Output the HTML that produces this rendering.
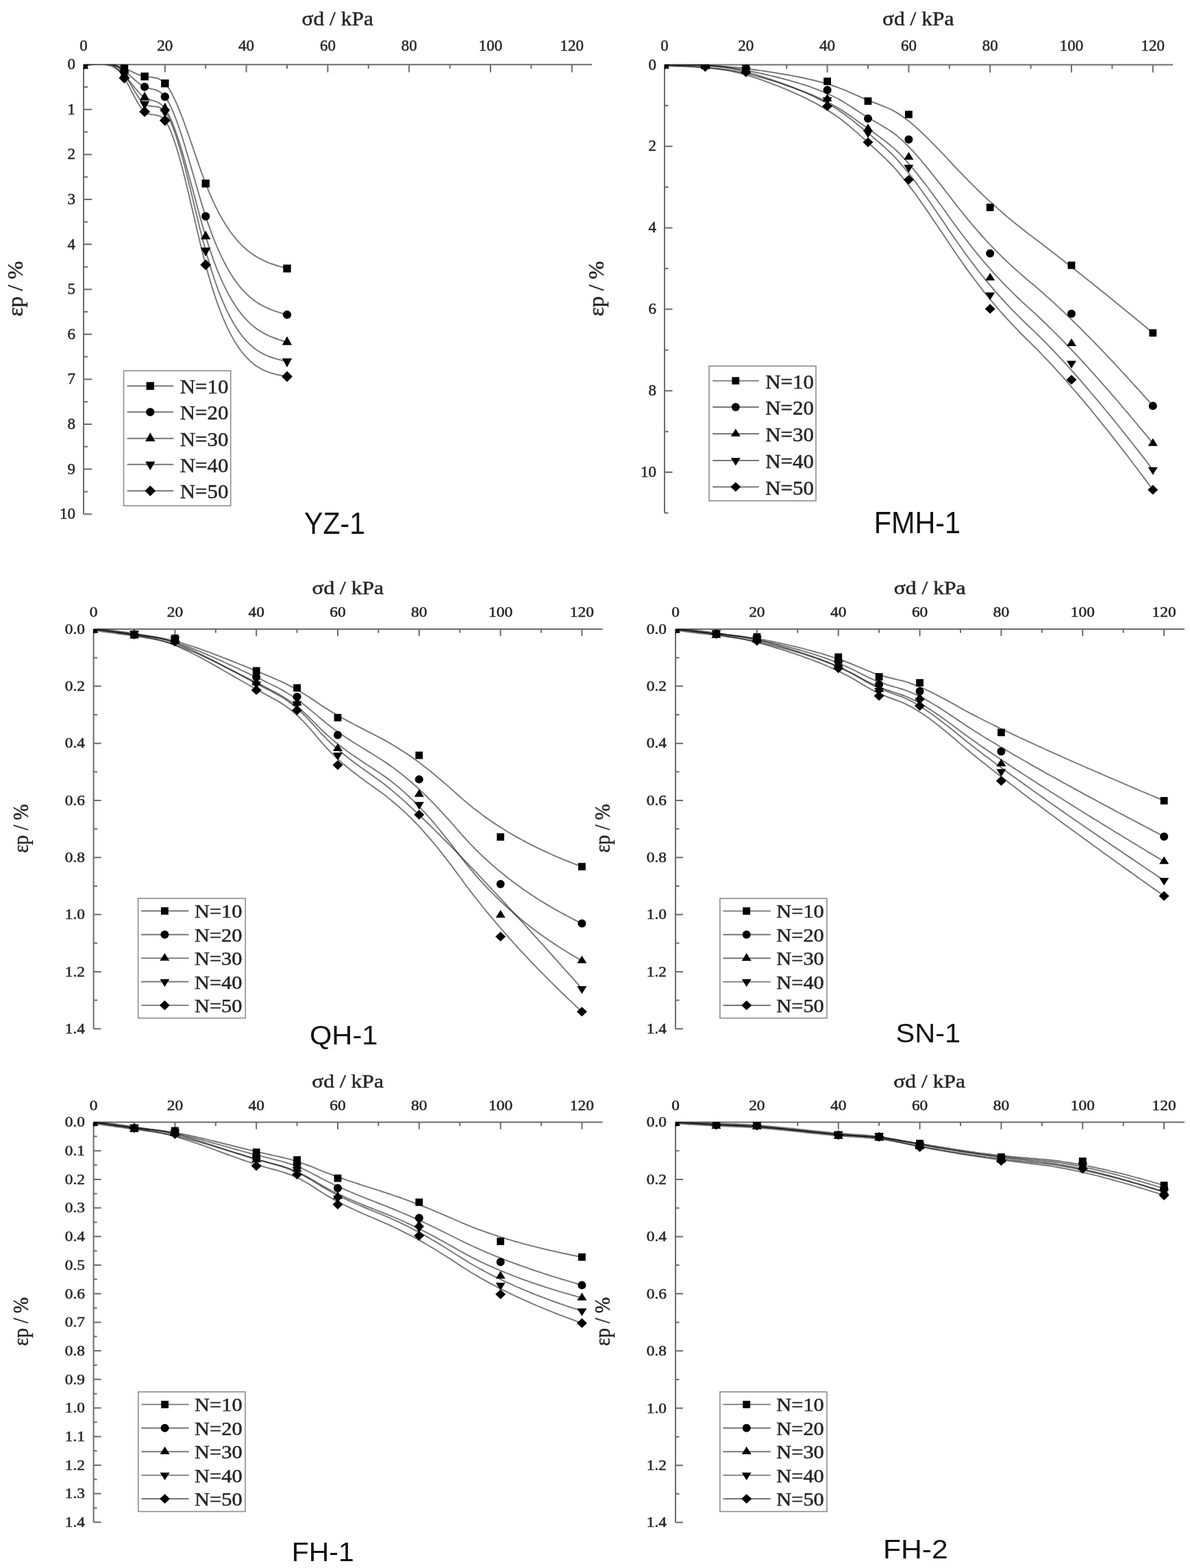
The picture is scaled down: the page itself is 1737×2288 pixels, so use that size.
<!DOCTYPE html>
<html><head><meta charset="utf-8"><title>Figure</title>
<style>html,body{margin:0;padding:0;background:#fff;overflow:hidden;}svg{display:block;}</style></head>
<body><svg width="1737" height="2288" viewBox="0 0 1737 2288">
<rect width="1737" height="2288" fill="#fff"/>
<clipPath id="cp1"><rect x="122" y="94.2" width="742" height="656"/></clipPath>
<path d="M122,94.2H864M122,94.2V750.2M181.4,94.2v6M240.8,94.2v11.2M300.2,94.2v6M359.6,94.2v11.2M419,94.2v6M478.4,94.2v11.2M537.8,94.2v6M597.2,94.2v11.2M656.6,94.2v6M716,94.2v11.2M775.4,94.2v6M834.8,94.2v11.2M122,127h6M122,159.8h12M122,192.6h6M122,225.4h12M122,258.2h6M122,291h12M122,323.8h6M122,356.6h12M122,389.4h6M122,422.2h12M122,455h6M122,487.8h12M122,520.6h6M122,553.4h12M122,586.2h6M122,619h12M122,651.8h6M122,684.6h12M122,717.4h6M122,750.2h12" stroke="#6b6b6b" stroke-width="2" fill="none"/>
<text transform="translate(122,74)" font-family='"Liberation Serif", "Times New Roman", serif' font-size="23" fill="#262626" stroke="#262626" stroke-width="0.5" text-anchor="middle">0</text>
<text transform="translate(240.8,74)" font-family='"Liberation Serif", "Times New Roman", serif' font-size="23" fill="#262626" stroke="#262626" stroke-width="0.5" text-anchor="middle">20</text>
<text transform="translate(359.6,74)" font-family='"Liberation Serif", "Times New Roman", serif' font-size="23" fill="#262626" stroke="#262626" stroke-width="0.5" text-anchor="middle">40</text>
<text transform="translate(478.4,74)" font-family='"Liberation Serif", "Times New Roman", serif' font-size="23" fill="#262626" stroke="#262626" stroke-width="0.5" text-anchor="middle">60</text>
<text transform="translate(597.2,74)" font-family='"Liberation Serif", "Times New Roman", serif' font-size="23" fill="#262626" stroke="#262626" stroke-width="0.5" text-anchor="middle">80</text>
<text transform="translate(716,74)" font-family='"Liberation Serif", "Times New Roman", serif' font-size="23" fill="#262626" stroke="#262626" stroke-width="0.5" text-anchor="middle">100</text>
<text transform="translate(834.8,74)" font-family='"Liberation Serif", "Times New Roman", serif' font-size="23" fill="#262626" stroke="#262626" stroke-width="0.5" text-anchor="middle">120</text>
<text transform="translate(110,101.1)" font-family='"Liberation Serif", "Times New Roman", serif' font-size="23" fill="#262626" stroke="#262626" stroke-width="0.5" text-anchor="end">0</text>
<text transform="translate(110,166.7)" font-family='"Liberation Serif", "Times New Roman", serif' font-size="23" fill="#262626" stroke="#262626" stroke-width="0.5" text-anchor="end">1</text>
<text transform="translate(110,232.3)" font-family='"Liberation Serif", "Times New Roman", serif' font-size="23" fill="#262626" stroke="#262626" stroke-width="0.5" text-anchor="end">2</text>
<text transform="translate(110,297.9)" font-family='"Liberation Serif", "Times New Roman", serif' font-size="23" fill="#262626" stroke="#262626" stroke-width="0.5" text-anchor="end">3</text>
<text transform="translate(110,363.5)" font-family='"Liberation Serif", "Times New Roman", serif' font-size="23" fill="#262626" stroke="#262626" stroke-width="0.5" text-anchor="end">4</text>
<text transform="translate(110,429.1)" font-family='"Liberation Serif", "Times New Roman", serif' font-size="23" fill="#262626" stroke="#262626" stroke-width="0.5" text-anchor="end">5</text>
<text transform="translate(110,494.7)" font-family='"Liberation Serif", "Times New Roman", serif' font-size="23" fill="#262626" stroke="#262626" stroke-width="0.5" text-anchor="end">6</text>
<text transform="translate(110,560.3)" font-family='"Liberation Serif", "Times New Roman", serif' font-size="23" fill="#262626" stroke="#262626" stroke-width="0.5" text-anchor="end">7</text>
<text transform="translate(110,625.9)" font-family='"Liberation Serif", "Times New Roman", serif' font-size="23" fill="#262626" stroke="#262626" stroke-width="0.5" text-anchor="end">8</text>
<text transform="translate(110,691.5)" font-family='"Liberation Serif", "Times New Roman", serif' font-size="23" fill="#262626" stroke="#262626" stroke-width="0.5" text-anchor="end">9</text>
<text transform="translate(110,757.1)" font-family='"Liberation Serif", "Times New Roman", serif' font-size="23" fill="#262626" stroke="#262626" stroke-width="0.5" text-anchor="end">10</text>
<text transform="translate(492.7,37.2) scale(1.085,1)" font-family='"Liberation Serif", "Times New Roman", serif' font-size="29" fill="#262626" stroke="#262626" stroke-width="0.5" text-anchor="middle">σd / kPa</text>
<text transform="translate(32.6,421.4) rotate(-90) scale(1.037,1)" font-family='"Liberation Serif", "Times New Roman", serif' font-size="30.8" fill="#262626" stroke="#262626" stroke-width="0.5" text-anchor="middle">εp / %</text>
<g clip-path="url(#cp1)">
<g stroke="#000" stroke-opacity="0.54" stroke-width="1.9" fill="none" stroke-linejoin="round">
<polyline points="122.0,94.2 123.5,94.1 125.0,94.0 126.5,93.9 128.0,93.8 129.5,93.7 131.0,93.6 132.4,93.5 133.9,93.5 135.4,93.4 136.9,93.3 138.4,93.3 139.9,93.2 141.4,93.2 142.9,93.2 144.4,93.2 145.9,93.2 147.4,93.2 148.9,93.2 150.4,93.3 151.8,93.4 153.3,93.4 154.8,93.5 156.3,93.7 157.8,93.8 159.3,94.0 160.8,94.2 162.3,94.4 163.8,94.6 165.3,94.9 166.8,95.1 168.3,95.5 169.8,95.8 171.3,96.2 172.7,96.5 174.2,97.0 175.7,97.4 177.2,97.9 178.7,98.4 180.2,99.0 181.7,99.6 183.2,100.2 184.7,100.8 186.2,101.5 187.7,102.2 189.2,102.9 190.7,103.6 192.1,104.3 193.6,105.1 195.1,105.8 196.6,106.5 198.1,107.1 199.6,107.8 201.1,108.4 202.6,109.0 204.1,109.6 205.6,110.1 207.1,110.6 208.6,111.0 210.1,111.4 211.5,111.7 213.0,111.9 214.5,112.1 216.0,112.3 217.5,112.4 219.0,112.5 220.5,112.6 222.0,112.8 223.5,113.0 225.0,113.2 226.5,113.5 228.0,113.8 229.5,114.2 230.9,114.8 232.4,115.4 233.9,116.2 235.4,117.1 236.9,118.1 238.4,119.4 239.9,120.8 241.4,122.3 242.9,124.1 244.4,126.1 245.9,128.2 247.4,130.6 248.9,133.1 250.4,135.7 251.8,138.5 253.3,141.5 254.8,144.6 256.3,147.8 257.8,151.1 259.3,154.6 260.8,158.2 262.3,161.9 263.8,165.6 265.3,169.5 266.8,173.4 268.3,177.4 269.8,181.5 271.2,185.7 272.7,189.9 274.2,194.1 275.7,198.4 277.2,202.7 278.7,207.0 280.2,211.4 281.7,215.7 283.2,220.1 284.7,224.5 286.2,228.8 287.7,233.1 289.2,237.4 290.6,241.7 292.1,245.9 293.6,250.1 295.1,254.3 296.6,258.3 298.1,262.3 299.6,266.2 301.1,270.1 302.6,273.8 304.1,277.5 305.6,281.1 307.1,284.6 308.6,288.0 310.1,291.3 311.5,294.6 313.0,297.8 314.5,300.9 316.0,303.9 317.5,306.9 319.0,309.7 320.5,312.6 322.0,315.3 323.5,318.0 325.0,320.6 326.5,323.1 328.0,325.6 329.5,327.9 330.9,330.3 332.4,332.5 333.9,334.8 335.4,336.9 336.9,339.0 338.4,341.0 339.9,343.0 341.4,344.9 342.9,346.7 344.4,348.5 345.9,350.3 347.4,351.9 348.9,353.6 350.3,355.2 351.8,356.7 353.3,358.2 354.8,359.6 356.3,361.0 357.8,362.4 359.3,363.7 360.8,364.9 362.3,366.2 363.8,367.3 365.3,368.5 366.8,369.6 368.3,370.6 369.7,371.6 371.2,372.6 372.7,373.6 374.2,374.5 375.7,375.4 377.2,376.2 378.7,377.1 380.2,377.9 381.7,378.6 383.2,379.4 384.7,380.1 386.2,380.8 387.7,381.4 389.2,382.1 390.6,382.7 392.1,383.3 393.6,383.9 395.1,384.4 396.6,385.0 398.1,385.5 399.6,386.0 401.1,386.5 402.6,387.0 404.1,387.5 405.6,388.0 407.1,388.4 408.6,388.9 410.0,389.3 411.5,389.7 413.0,390.2 414.5,390.6 416.0,391.0 417.5,391.4 419.0,391.8"/>
<polyline points="122.0,94.2 123.5,94.0 125.0,93.8 126.5,93.6 128.0,93.4 129.5,93.2 131.0,93.0 132.4,92.9 133.9,92.7 135.4,92.5 136.9,92.4 138.4,92.3 139.9,92.2 141.4,92.1 142.9,92.1 144.4,92.0 145.9,92.0 147.4,92.0 148.9,92.1 150.4,92.2 151.8,92.3 153.3,92.4 154.8,92.6 156.3,92.8 157.8,93.1 159.3,93.4 160.8,93.7 162.3,94.1 163.8,94.5 165.3,94.9 166.8,95.5 168.3,96.0 169.8,96.6 171.3,97.3 172.7,98.0 174.2,98.8 175.7,99.6 177.2,100.5 178.7,101.5 180.2,102.5 181.7,103.6 183.2,104.8 184.7,106.0 186.2,107.2 187.7,108.5 189.2,109.8 190.7,111.1 192.1,112.5 193.6,113.8 195.1,115.2 196.6,116.5 198.1,117.8 199.6,119.1 201.1,120.3 202.6,121.5 204.1,122.6 205.6,123.7 207.1,124.6 208.6,125.5 210.1,126.3 211.5,127.0 213.0,127.6 214.5,128.1 216.0,128.5 217.5,128.9 219.0,129.2 220.5,129.5 222.0,129.9 223.5,130.2 225.0,130.6 226.5,131.0 228.0,131.5 229.5,132.1 230.9,132.8 232.4,133.6 233.9,134.5 235.4,135.6 236.9,136.9 238.4,138.4 239.9,140.1 241.4,142.0 242.9,144.1 244.4,146.5 245.9,149.0 247.4,151.8 248.9,154.8 250.4,158.0 251.8,161.4 253.3,164.9 254.8,168.6 256.3,172.4 257.8,176.5 259.3,180.6 260.8,184.9 262.3,189.3 263.8,193.8 265.3,198.4 266.8,203.1 268.3,207.9 269.8,212.8 271.2,217.7 272.7,222.7 274.2,227.8 275.7,232.9 277.2,238.1 278.7,243.2 280.2,248.4 281.7,253.6 283.2,258.8 284.7,264.0 286.2,269.2 287.7,274.4 289.2,279.5 290.6,284.6 292.1,289.6 293.6,294.6 295.1,299.5 296.6,304.3 298.1,309.1 299.6,313.8 301.1,318.3 302.6,322.8 304.1,327.1 305.6,331.4 307.1,335.5 308.6,339.6 310.1,343.6 311.5,347.4 313.0,351.2 314.5,354.9 316.0,358.5 317.5,362.0 319.0,365.4 320.5,368.7 322.0,371.9 323.5,375.1 325.0,378.1 326.5,381.1 328.0,384.0 329.5,386.8 330.9,389.6 332.4,392.2 333.9,394.8 335.4,397.3 336.9,399.7 338.4,402.1 339.9,404.4 341.4,406.6 342.9,408.8 344.4,410.9 345.9,412.9 347.4,414.9 348.9,416.8 350.3,418.6 351.8,420.4 353.3,422.1 354.8,423.8 356.3,425.4 357.8,426.9 359.3,428.4 360.8,429.9 362.3,431.2 363.8,432.6 365.3,433.9 366.8,435.1 368.3,436.3 369.7,437.5 371.2,438.6 372.7,439.7 374.2,440.7 375.7,441.7 377.2,442.6 378.7,443.6 380.2,444.4 381.7,445.3 383.2,446.1 384.7,446.9 386.2,447.6 387.7,448.4 389.2,449.0 390.6,449.7 392.1,450.4 393.6,451.0 395.1,451.6 396.6,452.2 398.1,452.7 399.6,453.3 401.1,453.8 402.6,454.3 404.1,454.8 405.6,455.3 407.1,455.7 408.6,456.2 410.0,456.6 411.5,457.1 413.0,457.5 414.5,457.9 416.0,458.4 417.5,458.8 419.0,459.2"/>
<polyline points="122.0,96.3 123.5,96.1 125.0,95.8 126.5,95.5 128.0,95.3 129.5,95.0 131.0,94.8 132.4,94.5 133.9,94.3 135.4,94.1 136.9,94.0 138.4,93.8 139.9,93.7 141.4,93.6 142.9,93.5 144.4,93.5 145.9,93.5 147.4,93.5 148.9,93.6 150.4,93.7 151.8,93.9 153.3,94.1 154.8,94.3 156.3,94.6 157.8,95.0 159.3,95.4 160.8,95.9 162.3,96.4 163.8,97.0 165.3,97.6 166.8,98.4 168.3,99.2 169.8,100.0 171.3,101.0 172.7,102.0 174.2,103.1 175.7,104.2 177.2,105.5 178.7,106.8 180.2,108.2 181.7,109.8 183.2,111.4 184.7,113.0 186.2,114.8 187.7,116.6 189.2,118.4 190.7,120.3 192.1,122.2 193.6,124.0 195.1,125.9 196.6,127.8 198.1,129.6 199.6,131.4 201.1,133.1 202.6,134.8 204.1,136.3 205.6,137.8 207.1,139.2 208.6,140.4 210.1,141.6 211.5,142.5 213.0,143.4 214.5,144.1 216.0,144.7 217.5,145.2 219.0,145.7 220.5,146.1 222.0,146.5 223.5,146.9 225.0,147.3 226.5,147.8 228.0,148.3 229.5,148.9 230.9,149.6 232.4,150.5 233.9,151.4 235.4,152.6 236.9,153.9 238.4,155.4 239.9,157.2 241.4,159.2 242.9,161.4 244.4,163.9 245.9,166.6 247.4,169.6 248.9,172.7 250.4,176.1 251.8,179.7 253.3,183.4 254.8,187.4 256.3,191.5 257.8,195.7 259.3,200.2 260.8,204.7 262.3,209.4 263.8,214.3 265.3,219.2 266.8,224.2 268.3,229.4 269.8,234.6 271.2,239.9 272.7,245.3 274.2,250.7 275.7,256.2 277.2,261.7 278.7,267.2 280.2,272.8 281.7,278.4 283.2,284.0 284.7,289.6 286.2,295.1 287.7,300.7 289.2,306.2 290.6,311.6 292.1,317.0 293.6,322.4 295.1,327.7 296.6,332.9 298.1,338.0 299.6,343.0 301.1,347.9 302.6,352.7 304.1,357.4 305.6,361.9 307.1,366.4 308.6,370.7 310.1,375.0 311.5,379.2 313.0,383.2 314.5,387.2 316.0,391.0 317.5,394.8 319.0,398.4 320.5,402.0 322.0,405.5 323.5,408.8 325.0,412.1 326.5,415.3 328.0,418.4 329.5,421.5 330.9,424.4 332.4,427.3 333.9,430.1 335.4,432.8 336.9,435.4 338.4,437.9 339.9,440.4 341.4,442.8 342.9,445.1 344.4,447.3 345.9,449.5 347.4,451.6 348.9,453.7 350.3,455.6 351.8,457.6 353.3,459.4 354.8,461.2 356.3,462.9 357.8,464.6 359.3,466.2 360.8,467.7 362.3,469.2 363.8,470.7 365.3,472.1 366.8,473.4 368.3,474.7 369.7,475.9 371.2,477.1 372.7,478.3 374.2,479.4 375.7,480.5 377.2,481.5 378.7,482.5 380.2,483.4 381.7,484.3 383.2,485.2 384.7,486.0 386.2,486.8 387.7,487.6 389.2,488.4 390.6,489.1 392.1,489.8 393.6,490.5 395.1,491.1 396.6,491.7 398.1,492.3 399.6,492.9 401.1,493.5 402.6,494.0 404.1,494.5 405.6,495.1 407.1,495.6 408.6,496.1 410.0,496.5 411.5,497.0 413.0,497.5 414.5,497.9 416.0,498.4 417.5,498.9 419.0,499.3"/>
<polyline points="122.0,92.1 123.5,91.6 125.0,91.2 126.5,90.8 128.0,90.4 129.5,90.0 131.0,89.6 132.4,89.2 133.9,88.9 135.4,88.6 136.9,88.3 138.4,88.0 139.9,87.8 141.4,87.6 142.9,87.5 144.4,87.4 145.9,87.4 147.4,87.4 148.9,87.4 150.4,87.5 151.8,87.7 153.3,87.9 154.8,88.3 156.3,88.6 157.8,89.1 159.3,89.6 160.8,90.2 162.3,90.9 163.8,91.7 165.3,92.5 166.8,93.5 168.3,94.6 169.8,95.7 171.3,97.0 172.7,98.3 174.2,99.8 175.7,101.4 177.2,103.1 178.7,104.9 180.2,106.8 181.7,108.9 183.2,111.1 184.7,113.4 186.2,115.7 187.7,118.2 189.2,120.7 190.7,123.2 192.1,125.7 193.6,128.3 195.1,130.8 196.6,133.3 198.1,135.7 199.6,138.1 201.1,140.3 202.6,142.5 204.1,144.5 205.6,146.4 207.1,148.1 208.6,149.6 210.1,151.0 211.5,152.1 213.0,153.0 214.5,153.7 216.0,154.2 217.5,154.6 219.0,154.8 220.5,155.0 222.0,155.2 223.5,155.2 225.0,155.3 226.5,155.4 228.0,155.6 229.5,155.8 230.9,156.2 232.4,156.6 233.9,157.3 235.4,158.1 236.9,159.1 238.4,160.3 239.9,161.9 241.4,163.7 242.9,165.8 244.4,168.2 245.9,170.9 247.4,173.9 248.9,177.1 250.4,180.6 251.8,184.3 253.3,188.2 254.8,192.4 256.3,196.8 257.8,201.3 259.3,206.1 260.8,211.0 262.3,216.1 263.8,221.3 265.3,226.7 266.8,232.1 268.3,237.8 269.8,243.5 271.2,249.3 272.7,255.2 274.2,261.2 275.7,267.2 277.2,273.3 278.7,279.4 280.2,285.6 281.7,291.8 283.2,298.0 284.7,304.2 286.2,310.3 287.7,316.5 289.2,322.6 290.6,328.7 292.1,334.7 293.6,340.6 295.1,346.5 296.6,352.2 298.1,357.9 299.6,363.4 301.1,368.9 302.6,374.2 304.1,379.3 305.6,384.4 307.1,389.3 308.6,394.1 310.1,398.8 311.5,403.4 313.0,407.8 314.5,412.2 316.0,416.4 317.5,420.5 319.0,424.5 320.5,428.4 322.0,432.2 323.5,435.9 325.0,439.5 326.5,442.9 328.0,446.3 329.5,449.6 330.9,452.8 332.4,455.9 333.9,458.9 335.4,461.8 336.9,464.6 338.4,467.3 339.9,469.9 341.4,472.5 342.9,475.0 344.4,477.3 345.9,479.7 347.4,481.9 348.9,484.0 350.3,486.1 351.8,488.1 353.3,490.0 354.8,491.9 356.3,493.7 357.8,495.4 359.3,497.0 360.8,498.6 362.3,500.1 363.8,501.6 365.3,503.0 366.8,504.4 368.3,505.6 369.7,506.9 371.2,508.1 372.7,509.2 374.2,510.3 375.7,511.3 377.2,512.3 378.7,513.2 380.2,514.1 381.7,515.0 383.2,515.8 384.7,516.6 386.2,517.3 387.7,518.0 389.2,518.7 390.6,519.3 392.1,519.9 393.6,520.5 395.1,521.0 396.6,521.6 398.1,522.0 399.6,522.5 401.1,523.0 402.6,523.4 404.1,523.8 405.6,524.2 407.1,524.6 408.6,525.0 410.0,525.4 411.5,525.7 413.0,526.1 414.5,526.4 416.0,526.7 417.5,527.1 419.0,527.4"/>
<polyline points="122.0,94.2 123.5,93.8 125.0,93.3 126.5,92.9 128.0,92.5 129.5,92.1 131.0,91.7 132.4,91.3 133.9,91.0 135.4,90.7 136.9,90.4 138.4,90.1 139.9,89.9 141.4,89.8 142.9,89.7 144.4,89.6 145.9,89.6 147.4,89.6 148.9,89.7 150.4,89.9 151.8,90.1 153.3,90.4 154.8,90.8 156.3,91.3 157.8,91.8 159.3,92.4 160.8,93.1 162.3,93.9 163.8,94.8 165.3,95.8 166.8,96.9 168.3,98.1 169.8,99.5 171.3,100.9 172.7,102.4 174.2,104.1 175.7,105.9 177.2,107.8 178.7,109.9 180.2,112.0 181.7,114.4 183.2,116.8 184.7,119.4 186.2,122.1 187.7,124.8 189.2,127.6 190.7,130.5 192.1,133.3 193.6,136.2 195.1,139.0 196.6,141.8 198.1,144.6 199.6,147.2 201.1,149.8 202.6,152.2 204.1,154.5 205.6,156.7 207.1,158.6 208.6,160.4 210.1,161.9 211.5,163.3 213.0,164.3 214.5,165.2 216.0,165.8 217.5,166.4 219.0,166.7 220.5,167.0 222.0,167.2 223.5,167.4 225.0,167.6 226.5,167.8 228.0,168.0 229.5,168.3 230.9,168.7 232.4,169.2 233.9,169.9 235.4,170.7 236.9,171.8 238.4,173.2 239.9,174.8 241.4,176.7 242.9,178.9 244.4,181.4 245.9,184.2 247.4,187.3 248.9,190.7 250.4,194.3 251.8,198.2 253.3,202.3 254.8,206.7 256.3,211.2 257.8,215.9 259.3,220.9 260.8,226.0 262.3,231.3 263.8,236.7 265.3,242.3 266.8,248.0 268.3,253.8 269.8,259.8 271.2,265.8 272.7,272.0 274.2,278.2 275.7,284.4 277.2,290.8 278.7,297.1 280.2,303.5 281.7,309.9 283.2,316.3 284.7,322.8 286.2,329.2 287.7,335.5 289.2,341.9 290.6,348.1 292.1,354.4 293.6,360.5 295.1,366.6 296.6,372.5 298.1,378.4 299.6,384.1 301.1,389.7 302.6,395.2 304.1,400.6 305.6,405.8 307.1,410.9 308.6,415.8 310.1,420.6 311.5,425.4 313.0,429.9 314.5,434.4 316.0,438.8 317.5,443.0 319.0,447.1 320.5,451.1 322.0,455.0 323.5,458.8 325.0,462.5 326.5,466.0 328.0,469.5 329.5,472.8 330.9,476.1 332.4,479.3 333.9,482.3 335.4,485.3 336.9,488.1 338.4,490.9 339.9,493.6 341.4,496.2 342.9,498.7 344.4,501.1 345.9,503.5 347.4,505.7 348.9,507.9 350.3,510.0 351.8,512.0 353.3,513.9 354.8,515.8 356.3,517.6 357.8,519.3 359.3,520.9 360.8,522.5 362.3,524.0 363.8,525.5 365.3,526.9 366.8,528.2 368.3,529.5 369.7,530.7 371.2,531.8 372.7,532.9 374.2,534.0 375.7,535.0 377.2,535.9 378.7,536.8 380.2,537.7 381.7,538.5 383.2,539.3 384.7,540.0 386.2,540.7 387.7,541.3 389.2,541.9 390.6,542.5 392.1,543.1 393.6,543.6 395.1,544.1 396.6,544.5 398.1,545.0 399.6,545.4 401.1,545.8 402.6,546.2 404.1,546.5 405.6,546.8 407.1,547.2 408.6,547.5 410.0,547.8 411.5,548.1 413.0,548.3 414.5,548.6 416.0,548.9 417.5,549.1 419.0,549.4"/>
</g>
<g fill="#000">
<rect x="116.3" y="88.5" width="11.4" height="11.4"/>
<rect x="175.7" y="93.75" width="11.4" height="11.4"/>
<rect x="205.4" y="105.88" width="11.4" height="11.4"/>
<rect x="235.1" y="115.99" width="11.4" height="11.4"/>
<rect x="294.5" y="262.08" width="11.4" height="11.4"/>
<rect x="413.3" y="386.13" width="11.4" height="11.4"/>
<circle cx="122" cy="94.2" r="6.1"/>
<circle cx="181.4" cy="103.38" r="6.1"/>
<circle cx="211.1" cy="126.8" r="6.1"/>
<circle cx="240.8" cy="141.17" r="6.1"/>
<circle cx="300.2" cy="315.6" r="6.1"/>
<circle cx="419" cy="459.2" r="6.1"/>
<path d="M122,87.8L129.2,100.6L114.8,100.6Z"/>
<path d="M181.4,100.92L188.6,113.72L174.2,113.72Z"/>
<path d="M211.1,133.72L218.3,146.52L203.9,146.52Z"/>
<path d="M240.8,149.79L248,162.59L233.6,162.59Z"/>
<path d="M300.2,336.42L307.4,349.22L293,349.22Z"/>
<path d="M419,490.78L426.2,503.58L411.8,503.58Z"/>
<path d="M122,100.6L129.2,87.8L114.8,87.8Z"/>
<path d="M181.4,117L188.6,104.2L174.2,104.2Z"/>
<path d="M211.1,160.3L218.3,147.5L203.9,147.5Z"/>
<path d="M240.8,171.45L248,158.65L233.6,158.65Z"/>
<path d="M300.2,374.15L307.4,361.35L293,361.35Z"/>
<path d="M419,535.92L426.2,523.12L411.8,523.12Z"/>
<path d="M122,86.4L129.9,94.2L122,102L114.1,94.2Z"/>
<path d="M181.4,106.08L189.3,113.88L181.4,121.68L173.5,113.88Z"/>
<path d="M211.1,155.08L219,162.88L211.1,170.68L203.2,162.88Z"/>
<path d="M240.8,168.07L248.7,175.87L240.8,183.67L232.9,175.87Z"/>
<path d="M300.2,378.58L308.1,386.38L300.2,394.18L292.3,386.38Z"/>
<path d="M419,541.6L426.9,549.4L419,557.2L411.1,549.4Z"/>
</g></g>
<rect x="180.5" y="541" width="156.2" height="197" fill="#fff" stroke="#8c8c8c" stroke-width="1.6"/>
<path d="M185.7,563.2H253.3" stroke="#777777" stroke-width="1.9"/>
<g fill="#000"><rect x="213.6" y="557.5" width="11.4" height="11.4"/></g>
<text transform="translate(262.8,574.2) scale(1.02,1)" font-family='"Liberation Serif", "Times New Roman", serif' font-size="30.3" fill="#262626" stroke="#262626" stroke-width="0.5" text-anchor="start">N=10</text>
<path d="M185.7,601.3H253.3" stroke="#777777" stroke-width="1.9"/>
<g fill="#000"><circle cx="219.3" cy="601.3" r="6.1"/></g>
<text transform="translate(262.8,612.3) scale(1.02,1)" font-family='"Liberation Serif", "Times New Roman", serif' font-size="30.3" fill="#262626" stroke="#262626" stroke-width="0.5" text-anchor="start">N=20</text>
<path d="M185.7,639.7H253.3" stroke="#777777" stroke-width="1.9"/>
<g fill="#000"><path d="M219.3,631.17L226.5,643.97L212.1,643.97Z"/></g>
<text transform="translate(262.8,650.7) scale(1.02,1)" font-family='"Liberation Serif", "Times New Roman", serif' font-size="30.3" fill="#262626" stroke="#262626" stroke-width="0.5" text-anchor="start">N=30</text>
<path d="M185.7,677.8H253.3" stroke="#777777" stroke-width="1.9"/>
<g fill="#000"><path d="M219.3,686.33L226.5,673.53L212.1,673.53Z"/></g>
<text transform="translate(262.8,688.8) scale(1.02,1)" font-family='"Liberation Serif", "Times New Roman", serif' font-size="30.3" fill="#262626" stroke="#262626" stroke-width="0.5" text-anchor="start">N=40</text>
<path d="M185.7,716.3H253.3" stroke="#777777" stroke-width="1.9"/>
<g fill="#000"><path d="M219.3,708.5L227.2,716.3L219.3,724.1L211.4,716.3Z"/></g>
<text transform="translate(262.8,727.3) scale(1.02,1)" font-family='"Liberation Serif", "Times New Roman", serif' font-size="30.3" fill="#262626" stroke="#262626" stroke-width="0.5" text-anchor="start">N=50</text>
<text transform="translate(488.5,778.5) scale(0.93,1)" font-family='"Liberation Sans", Arial, sans-serif' font-size="44.2" fill="#111" text-anchor="middle">YZ-1</text>
<clipPath id="cp2"><rect x="970" y="94.6" width="742" height="653.95"/></clipPath>
<path d="M970,94.6H1712M970,94.6V748.55M1029.4,94.6v6M1088.8,94.6v11.2M1148.2,94.6v6M1207.6,94.6v11.2M1267,94.6v6M1326.4,94.6v11.2M1385.8,94.6v6M1445.2,94.6v11.2M1504.6,94.6v6M1564,94.6v11.2M1623.4,94.6v6M1682.8,94.6v11.2M970,154.05h5.5M970,213.5h11.5M970,272.95h5.5M970,332.4h11.5M970,391.85h5.5M970,451.3h11.5M970,510.75h5.5M970,570.2h11.5M970,629.65h5.5M970,689.1h11.5M970,748.55h5.5" stroke="#6b6b6b" stroke-width="2" fill="none"/>
<text transform="translate(970,74.3)" font-family='"Liberation Serif", "Times New Roman", serif' font-size="23" fill="#262626" stroke="#262626" stroke-width="0.5" text-anchor="middle">0</text>
<text transform="translate(1088.8,74.3)" font-family='"Liberation Serif", "Times New Roman", serif' font-size="23" fill="#262626" stroke="#262626" stroke-width="0.5" text-anchor="middle">20</text>
<text transform="translate(1207.6,74.3)" font-family='"Liberation Serif", "Times New Roman", serif' font-size="23" fill="#262626" stroke="#262626" stroke-width="0.5" text-anchor="middle">40</text>
<text transform="translate(1326.4,74.3)" font-family='"Liberation Serif", "Times New Roman", serif' font-size="23" fill="#262626" stroke="#262626" stroke-width="0.5" text-anchor="middle">60</text>
<text transform="translate(1445.2,74.3)" font-family='"Liberation Serif", "Times New Roman", serif' font-size="23" fill="#262626" stroke="#262626" stroke-width="0.5" text-anchor="middle">80</text>
<text transform="translate(1564,74.3)" font-family='"Liberation Serif", "Times New Roman", serif' font-size="23" fill="#262626" stroke="#262626" stroke-width="0.5" text-anchor="middle">100</text>
<text transform="translate(1682.8,74.3)" font-family='"Liberation Serif", "Times New Roman", serif' font-size="23" fill="#262626" stroke="#262626" stroke-width="0.5" text-anchor="middle">120</text>
<text transform="translate(958,101.5)" font-family='"Liberation Serif", "Times New Roman", serif' font-size="23" fill="#262626" stroke="#262626" stroke-width="0.5" text-anchor="end">0</text>
<text transform="translate(958,220.4)" font-family='"Liberation Serif", "Times New Roman", serif' font-size="23" fill="#262626" stroke="#262626" stroke-width="0.5" text-anchor="end">2</text>
<text transform="translate(958,339.3)" font-family='"Liberation Serif", "Times New Roman", serif' font-size="23" fill="#262626" stroke="#262626" stroke-width="0.5" text-anchor="end">4</text>
<text transform="translate(958,458.2)" font-family='"Liberation Serif", "Times New Roman", serif' font-size="23" fill="#262626" stroke="#262626" stroke-width="0.5" text-anchor="end">6</text>
<text transform="translate(958,577.1)" font-family='"Liberation Serif", "Times New Roman", serif' font-size="23" fill="#262626" stroke="#262626" stroke-width="0.5" text-anchor="end">8</text>
<text transform="translate(958,696)" font-family='"Liberation Serif", "Times New Roman", serif' font-size="23" fill="#262626" stroke="#262626" stroke-width="0.5" text-anchor="end">10</text>
<text transform="translate(1340.2,37.3) scale(1.085,1)" font-family='"Liberation Serif", "Times New Roman", serif' font-size="29" fill="#262626" stroke="#262626" stroke-width="0.5" text-anchor="middle">σd / kPa</text>
<text transform="translate(880.7,421.2) rotate(-90) scale(1.037,1)" font-family='"Liberation Serif", "Times New Roman", serif' font-size="30.8" fill="#262626" stroke="#262626" stroke-width="0.5" text-anchor="middle">εp / %</text>
<g clip-path="url(#cp2)">
<g stroke="#000" stroke-opacity="0.54" stroke-width="1.9" fill="none" stroke-linejoin="round">
<polyline points="970.0,94.6 974.0,94.6 978.0,94.6 981.9,94.6 985.9,94.6 989.9,94.7 993.9,94.7 997.9,94.8 1001.9,94.8 1005.8,94.9 1009.8,94.9 1013.8,95.0 1017.8,95.1 1021.8,95.2 1025.7,95.3 1029.7,95.5 1033.7,95.6 1037.7,95.8 1041.7,96.0 1045.7,96.2 1049.6,96.4 1053.6,96.7 1057.6,96.9 1061.6,97.2 1065.6,97.6 1069.6,98.0 1073.5,98.3 1077.5,98.8 1081.5,99.2 1085.5,99.7 1089.5,100.2 1093.4,100.7 1097.4,101.2 1101.4,101.7 1105.4,102.3 1109.4,102.9 1113.4,103.4 1117.3,104.0 1121.3,104.6 1125.3,105.3 1129.3,105.9 1133.3,106.5 1137.2,107.2 1141.2,107.8 1145.2,108.5 1149.2,109.2 1153.2,109.9 1157.2,110.7 1161.1,111.4 1165.1,112.2 1169.1,113.0 1173.1,113.8 1177.1,114.7 1181.1,115.6 1185.0,116.5 1189.0,117.5 1193.0,118.5 1197.0,119.5 1201.0,120.6 1204.9,121.7 1208.9,122.9 1212.9,124.2 1216.9,125.5 1220.9,126.9 1224.9,128.3 1228.8,129.8 1232.8,131.4 1236.8,133.1 1240.8,134.9 1244.8,136.7 1248.7,138.4 1252.7,140.1 1256.7,141.9 1260.7,143.5 1264.7,145.2 1268.7,146.8 1272.6,148.4 1276.6,150.0 1280.6,151.5 1284.6,153.1 1288.6,154.7 1292.6,156.3 1296.5,158.0 1300.5,159.8 1304.5,161.8 1308.5,164.1 1312.5,166.6 1316.4,169.3 1320.4,172.2 1324.4,175.2 1328.4,178.3 1332.4,181.6 1336.4,185.1 1340.3,188.7 1344.3,192.3 1348.3,196.1 1352.3,200.0 1356.3,203.9 1360.2,207.9 1364.2,212.0 1368.2,216.1 1372.2,220.2 1376.2,224.4 1380.2,228.7 1384.1,232.9 1388.1,237.2 1392.1,241.5 1396.1,245.7 1400.1,249.9 1404.1,254.0 1408.0,258.1 1412.0,262.2 1416.0,266.2 1420.0,270.2 1424.0,274.1 1427.9,278.0 1431.9,281.8 1435.9,285.6 1439.9,289.4 1443.9,293.1 1447.9,296.7 1451.8,300.3 1455.8,303.9 1459.8,307.3 1463.8,310.8 1467.8,314.2 1471.7,317.6 1475.7,320.9 1479.7,324.1 1483.7,327.4 1487.7,330.5 1491.7,333.7 1495.6,336.8 1499.6,339.9 1503.6,342.9 1507.6,345.9 1511.6,348.9 1515.6,352.0 1519.5,355.0 1523.5,358.1 1527.5,361.1 1531.5,364.2 1535.5,367.3 1539.4,370.3 1543.4,373.4 1547.4,376.5 1551.4,379.6 1555.4,382.8 1559.4,385.9 1563.3,389.0 1567.3,392.1 1571.3,395.3 1575.3,398.4 1579.3,401.6 1583.2,404.7 1587.2,407.9 1591.2,411.1 1595.2,414.3 1599.2,417.5 1603.2,420.7 1607.1,423.9 1611.1,427.1 1615.1,430.3 1619.1,433.5 1623.1,436.7 1627.1,440.0 1631.0,443.2 1635.0,446.4 1639.0,449.7 1643.0,452.9 1647.0,456.2 1650.9,459.5 1654.9,462.7 1658.9,466.0 1662.9,469.3 1666.9,472.6 1670.9,475.9 1674.8,479.2 1678.8,482.5 1682.8,485.8"/>
<polyline points="970.0,94.6 974.0,94.6 978.0,94.6 981.9,94.6 985.9,94.7 989.9,94.7 993.9,94.8 997.9,94.8 1001.9,94.9 1005.8,95.0 1009.8,95.1 1013.8,95.2 1017.8,95.3 1021.8,95.5 1025.7,95.7 1029.7,95.9 1033.7,96.1 1037.7,96.3 1041.7,96.6 1045.7,96.9 1049.6,97.2 1053.6,97.6 1057.6,98.0 1061.6,98.4 1065.6,98.9 1069.6,99.5 1073.5,100.1 1077.5,100.7 1081.5,101.4 1085.5,102.1 1089.5,102.8 1093.4,103.6 1097.4,104.4 1101.4,105.2 1105.4,106.0 1109.4,106.9 1113.4,107.8 1117.3,108.7 1121.3,109.6 1125.3,110.6 1129.3,111.5 1133.3,112.5 1137.2,113.5 1141.2,114.5 1145.2,115.5 1149.2,116.6 1153.2,117.7 1157.2,118.8 1161.1,119.9 1165.1,121.1 1169.1,122.3 1173.1,123.6 1177.1,124.9 1181.1,126.2 1185.0,127.6 1189.0,129.1 1193.0,130.6 1197.0,132.1 1201.0,133.7 1204.9,135.4 1208.9,137.2 1212.9,139.0 1216.9,141.0 1220.9,143.0 1224.9,145.1 1228.8,147.4 1232.8,149.7 1236.8,152.2 1240.8,154.8 1244.8,157.4 1248.7,159.9 1252.7,162.5 1256.7,165.0 1260.7,167.5 1264.7,170.0 1268.7,172.4 1272.6,174.8 1276.6,177.1 1280.6,179.5 1284.6,181.8 1288.6,184.2 1292.6,186.6 1296.5,189.0 1300.5,191.6 1304.5,194.4 1308.5,197.5 1312.5,200.9 1316.4,204.4 1320.4,208.1 1324.4,212.0 1328.4,216.1 1332.4,220.3 1336.4,224.7 1340.3,229.2 1344.3,233.8 1348.3,238.6 1352.3,243.4 1356.3,248.3 1360.2,253.2 1364.2,258.3 1368.2,263.3 1372.2,268.4 1376.2,273.6 1380.2,278.8 1384.1,284.0 1388.1,289.2 1392.1,294.4 1396.1,299.5 1400.1,304.5 1404.1,309.5 1408.0,314.4 1412.0,319.3 1416.0,324.1 1420.0,328.8 1424.0,333.4 1427.9,338.0 1431.9,342.5 1435.9,347.0 1439.9,351.3 1443.9,355.6 1447.9,359.8 1451.8,363.9 1455.8,368.0 1459.8,371.9 1463.8,375.8 1467.8,379.7 1471.7,383.4 1475.7,387.1 1479.7,390.8 1483.7,394.3 1487.7,397.9 1491.7,401.3 1495.6,404.8 1499.6,408.2 1503.6,411.5 1507.6,414.8 1511.6,418.2 1515.6,421.6 1519.5,425.0 1523.5,428.5 1527.5,432.1 1531.5,435.7 1535.5,439.3 1539.4,442.9 1543.4,446.6 1547.4,450.4 1551.4,454.1 1555.4,457.9 1559.4,461.7 1563.3,465.6 1567.3,469.5 1571.3,473.4 1575.3,477.3 1579.3,481.3 1583.2,485.3 1587.2,489.3 1591.2,493.3 1595.2,497.4 1599.2,501.5 1603.2,505.6 1607.1,509.8 1611.1,513.9 1615.1,518.1 1619.1,522.3 1623.1,526.5 1627.1,530.8 1631.0,535.1 1635.0,539.3 1639.0,543.6 1643.0,548.0 1647.0,552.3 1650.9,556.7 1654.9,561.1 1658.9,565.5 1662.9,569.9 1666.9,574.3 1670.9,578.8 1674.8,583.2 1678.8,587.7 1682.8,592.2"/>
<polyline points="970.0,96.5 974.0,96.5 978.0,96.6 981.9,96.6 985.9,96.7 989.9,96.8 993.9,96.9 997.9,97.0 1001.9,97.1 1005.8,97.3 1009.8,97.4 1013.8,97.6 1017.8,97.8 1021.8,98.0 1025.7,98.2 1029.7,98.5 1033.7,98.8 1037.7,99.1 1041.7,99.4 1045.7,99.8 1049.6,100.2 1053.6,100.7 1057.6,101.2 1061.6,101.7 1065.6,102.4 1069.6,103.0 1073.5,103.8 1077.5,104.6 1081.5,105.5 1085.5,106.4 1089.5,107.3 1093.4,108.3 1097.4,109.3 1101.4,110.3 1105.4,111.4 1109.4,112.5 1113.4,113.6 1117.3,114.8 1121.3,116.0 1125.3,117.2 1129.3,118.4 1133.3,119.7 1137.2,120.9 1141.2,122.2 1145.2,123.6 1149.2,124.9 1153.2,126.3 1157.2,127.7 1161.1,129.1 1165.1,130.6 1169.1,132.1 1173.1,133.6 1177.1,135.2 1181.1,136.8 1185.0,138.4 1189.0,140.2 1193.0,141.9 1197.0,143.7 1201.0,145.6 1204.9,147.5 1208.9,149.5 1212.9,151.6 1216.9,153.8 1220.9,156.1 1224.9,158.4 1228.8,160.8 1232.8,163.4 1236.8,166.1 1240.8,168.9 1244.8,171.7 1248.7,174.5 1252.7,177.4 1256.7,180.2 1260.7,183.1 1264.7,186.0 1268.7,188.8 1272.6,191.7 1276.6,194.5 1280.6,197.4 1284.6,200.3 1288.6,203.3 1292.6,206.3 1296.5,209.4 1300.5,212.6 1304.5,216.1 1308.5,219.8 1312.5,223.7 1316.4,227.8 1320.4,232.1 1324.4,236.5 1328.4,241.1 1332.4,245.8 1336.4,250.6 1340.3,255.6 1344.3,260.6 1348.3,265.8 1352.3,271.0 1356.3,276.3 1360.2,281.7 1364.2,287.1 1368.2,292.5 1372.2,298.0 1376.2,303.5 1380.2,309.0 1384.1,314.6 1388.1,320.2 1392.1,325.7 1396.1,331.1 1400.1,336.5 1404.1,341.8 1408.0,347.0 1412.0,352.2 1416.0,357.3 1420.0,362.3 1424.0,367.3 1427.9,372.1 1431.9,377.0 1435.9,381.7 1439.9,386.3 1443.9,390.9 1447.9,395.4 1451.8,399.8 1455.8,404.1 1459.8,408.4 1463.8,412.6 1467.8,416.7 1471.7,420.7 1475.7,424.7 1479.7,428.6 1483.7,432.5 1487.7,436.3 1491.7,440.1 1495.6,443.8 1499.6,447.4 1503.6,451.0 1507.6,454.6 1511.6,458.3 1515.6,462.0 1519.5,465.7 1523.5,469.5 1527.5,473.3 1531.5,477.2 1535.5,481.2 1539.4,485.1 1543.4,489.1 1547.4,493.2 1551.4,497.2 1555.4,501.3 1559.4,505.5 1563.3,509.7 1567.3,513.9 1571.3,518.1 1575.3,522.4 1579.3,526.7 1583.2,531.0 1587.2,535.4 1591.2,539.8 1595.2,544.2 1599.2,548.6 1603.2,553.1 1607.1,557.6 1611.1,562.1 1615.1,566.6 1619.1,571.2 1623.1,575.8 1627.1,580.4 1631.0,585.0 1635.0,589.7 1639.0,594.3 1643.0,599.0 1647.0,603.7 1650.9,608.5 1654.9,613.2 1658.9,618.0 1662.9,622.8 1666.9,627.6 1670.9,632.4 1674.8,637.2 1678.8,642.1 1682.8,647.0"/>
<polyline points="970.0,92.7 974.0,92.8 978.0,92.9 981.9,93.0 985.9,93.1 989.9,93.3 993.9,93.4 997.9,93.5 1001.9,93.7 1005.8,93.9 1009.8,94.1 1013.8,94.3 1017.8,94.5 1021.8,94.8 1025.7,95.1 1029.7,95.4 1033.7,95.7 1037.7,96.1 1041.7,96.4 1045.7,96.9 1049.6,97.3 1053.6,97.8 1057.6,98.4 1061.6,99.0 1065.6,99.7 1069.6,100.4 1073.5,101.3 1077.5,102.1 1081.5,103.1 1085.5,104.1 1089.5,105.1 1093.4,106.2 1097.4,107.3 1101.4,108.4 1105.4,109.6 1109.4,110.8 1113.4,112.1 1117.3,113.4 1121.3,114.7 1125.3,116.0 1129.3,117.4 1133.3,118.7 1137.2,120.1 1141.2,121.6 1145.2,123.0 1149.2,124.5 1153.2,126.0 1157.2,127.6 1161.1,129.2 1165.1,130.8 1169.1,132.4 1173.1,134.1 1177.1,135.8 1181.1,137.6 1185.0,139.4 1189.0,141.3 1193.0,143.3 1197.0,145.3 1201.0,147.3 1204.9,149.4 1208.9,151.7 1212.9,153.9 1216.9,156.3 1220.9,158.8 1224.9,161.4 1228.8,164.1 1232.8,166.9 1236.8,169.9 1240.8,172.9 1244.8,176.0 1248.7,179.2 1252.7,182.4 1256.7,185.7 1260.7,188.9 1264.7,192.2 1268.7,195.5 1272.6,198.8 1276.6,202.2 1280.6,205.6 1284.6,209.0 1288.6,212.5 1292.6,216.1 1296.5,219.7 1300.5,223.5 1304.5,227.5 1308.5,231.8 1312.5,236.2 1316.4,240.8 1320.4,245.5 1324.4,250.4 1328.4,255.4 1332.4,260.6 1336.4,265.8 1340.3,271.2 1344.3,276.7 1348.3,282.2 1352.3,287.8 1356.3,293.5 1360.2,299.2 1364.2,305.0 1368.2,310.8 1372.2,316.6 1376.2,322.5 1380.2,328.4 1384.1,334.2 1388.1,340.1 1392.1,345.9 1396.1,351.7 1400.1,357.3 1404.1,363.0 1408.0,368.5 1412.0,373.9 1416.0,379.3 1420.0,384.6 1424.0,389.8 1427.9,395.0 1431.9,400.0 1435.9,405.0 1439.9,409.9 1443.9,414.7 1447.9,419.4 1451.8,424.1 1455.8,428.6 1459.8,433.1 1463.8,437.5 1467.8,441.8 1471.7,446.0 1475.7,450.2 1479.7,454.3 1483.7,458.4 1487.7,462.4 1491.7,466.3 1495.6,470.2 1499.6,474.0 1503.6,477.8 1507.6,481.6 1511.6,485.4 1515.6,489.3 1519.5,493.2 1523.5,497.2 1527.5,501.2 1531.5,505.3 1535.5,509.5 1539.4,513.6 1543.4,517.9 1547.4,522.1 1551.4,526.4 1555.4,530.8 1559.4,535.2 1563.3,539.6 1567.3,544.0 1571.3,548.5 1575.3,553.0 1579.3,557.6 1583.2,562.2 1587.2,566.8 1591.2,571.5 1595.2,576.1 1599.2,580.9 1603.2,585.6 1607.1,590.4 1611.1,595.2 1615.1,600.0 1619.1,604.8 1623.1,609.7 1627.1,614.6 1631.0,619.5 1635.0,624.5 1639.0,629.4 1643.0,634.4 1647.0,639.4 1650.9,644.5 1654.9,649.5 1658.9,654.6 1662.9,659.7 1666.9,664.8 1670.9,669.9 1674.8,675.1 1678.8,680.3 1682.8,685.4"/>
<polyline points="970.0,94.6 974.0,94.8 978.0,95.0 981.9,95.2 985.9,95.5 989.9,95.7 993.9,95.9 997.9,96.2 1001.9,96.4 1005.8,96.7 1009.8,97.0 1013.8,97.3 1017.8,97.6 1021.8,98.0 1025.7,98.3 1029.7,98.7 1033.7,99.1 1037.7,99.5 1041.7,100.0 1045.7,100.5 1049.6,101.0 1053.6,101.5 1057.6,102.1 1061.6,102.8 1065.6,103.5 1069.6,104.3 1073.5,105.2 1077.5,106.2 1081.5,107.2 1085.5,108.3 1089.5,109.4 1093.4,110.6 1097.4,111.8 1101.4,113.1 1105.4,114.4 1109.4,115.8 1113.4,117.2 1117.3,118.6 1121.3,120.1 1125.3,121.6 1129.3,123.1 1133.3,124.6 1137.2,126.2 1141.2,127.8 1145.2,129.5 1149.2,131.1 1153.2,132.8 1157.2,134.6 1161.1,136.3 1165.1,138.1 1169.1,140.0 1173.1,141.9 1177.1,143.8 1181.1,145.8 1185.0,147.8 1189.0,149.9 1193.0,152.1 1197.0,154.3 1201.0,156.6 1204.9,159.0 1208.9,161.4 1212.9,163.9 1216.9,166.6 1220.9,169.3 1224.9,172.1 1228.8,175.1 1232.8,178.2 1236.8,181.4 1240.8,184.8 1244.8,188.2 1248.7,191.6 1252.7,195.1 1256.7,198.6 1260.7,202.2 1264.7,205.8 1268.7,209.4 1272.6,213.0 1276.6,216.6 1280.6,220.3 1284.6,224.0 1288.6,227.8 1292.6,231.6 1296.5,235.5 1300.5,239.5 1304.5,243.8 1308.5,248.2 1312.5,252.9 1316.4,257.6 1320.4,262.6 1324.4,267.6 1328.4,272.8 1332.4,278.1 1336.4,283.5 1340.3,289.0 1344.3,294.6 1348.3,300.3 1352.3,306.1 1356.3,311.9 1360.2,317.7 1364.2,323.6 1368.2,329.5 1372.2,335.4 1376.2,341.3 1380.2,347.3 1384.1,353.3 1388.1,359.3 1392.1,365.2 1396.1,371.0 1400.1,376.8 1404.1,382.5 1408.0,388.1 1412.0,393.6 1416.0,399.1 1420.0,404.5 1424.0,409.8 1427.9,415.0 1431.9,420.2 1435.9,425.3 1439.9,430.3 1443.9,435.2 1447.9,440.0 1451.8,444.7 1455.8,449.4 1459.8,454.0 1463.8,458.5 1467.8,462.9 1471.7,467.2 1475.7,471.5 1479.7,475.7 1483.7,479.9 1487.7,484.0 1491.7,488.0 1495.6,492.0 1499.6,496.0 1503.6,499.9 1507.6,503.8 1511.6,507.7 1515.6,511.7 1519.5,515.8 1523.5,519.9 1527.5,524.1 1531.5,528.3 1535.5,532.6 1539.4,536.9 1543.4,541.3 1547.4,545.7 1551.4,550.2 1555.4,554.7 1559.4,559.2 1563.3,563.8 1567.3,568.4 1571.3,573.0 1575.3,577.7 1579.3,582.4 1583.2,587.2 1587.2,591.9 1591.2,596.7 1595.2,601.6 1599.2,606.5 1603.2,611.4 1607.1,616.3 1611.1,621.3 1615.1,626.2 1619.1,631.3 1623.1,636.3 1627.1,641.4 1631.0,646.4 1635.0,651.6 1639.0,656.7 1643.0,661.9 1647.0,667.0 1650.9,672.3 1654.9,677.5 1658.9,682.7 1662.9,688.0 1666.9,693.3 1670.9,698.6 1674.8,703.9 1678.8,709.3 1682.8,714.7"/>
</g>
<g fill="#000">
<rect x="964.6" y="89.2" width="10.8" height="10.8"/>
<rect x="1024" y="89.2" width="10.8" height="10.8"/>
<rect x="1083.4" y="93.36" width="10.8" height="10.8"/>
<rect x="1202.2" y="113.34" width="10.8" height="10.8"/>
<rect x="1261.6" y="142.11" width="10.8" height="10.8"/>
<rect x="1321" y="161.61" width="10.8" height="10.8"/>
<rect x="1439.8" y="297.28" width="10.8" height="10.8"/>
<rect x="1558.6" y="381.69" width="10.8" height="10.8"/>
<rect x="1677.4" y="480.38" width="10.8" height="10.8"/>
<circle cx="970" cy="94.6" r="6"/>
<circle cx="1029.4" cy="94.6" r="6"/>
<circle cx="1088.8" cy="100.54" r="6"/>
<circle cx="1207.6" cy="131.28" r="6"/>
<circle cx="1267" cy="173.07" r="6"/>
<circle cx="1326.4" cy="203.39" r="6"/>
<circle cx="1445.2" cy="369.85" r="6"/>
<circle cx="1564" cy="457.84" r="6"/>
<circle cx="1682.8" cy="592.2" r="6"/>
<path d="M970,89L977,100.2L963,100.2Z"/>
<path d="M1029.4,89.59L1036.4,100.79L1022.4,100.79Z"/>
<path d="M1088.8,96.73L1095.8,107.93L1081.8,107.93Z"/>
<path d="M1207.6,136.56L1214.6,147.76L1200.6,147.76Z"/>
<path d="M1267,180.55L1274,191.75L1260,191.75Z"/>
<path d="M1326.4,221.87L1333.4,233.07L1319.4,233.07Z"/>
<path d="M1445.2,398.14L1452.2,409.34L1438.2,409.34Z"/>
<path d="M1564,493.85L1571,505.05L1557,505.05Z"/>
<path d="M1682.8,639.51L1689.8,650.71L1675.8,650.71Z"/>
<path d="M970,100.2L977,89L963,89Z"/>
<path d="M1029.4,101.39L1036.4,90.19L1022.4,90.19Z"/>
<path d="M1088.8,109.12L1095.8,97.92L1081.8,97.92Z"/>
<path d="M1207.6,153.11L1214.6,141.91L1200.6,141.91Z"/>
<path d="M1267,201.26L1274,190.06L1260,190.06Z"/>
<path d="M1326.4,251.8L1333.4,240.6L1319.4,240.6Z"/>
<path d="M1445.2,437.88L1452.2,426.68L1438.2,426.68Z"/>
<path d="M1564,537.75L1571,526.55L1557,526.55Z"/>
<path d="M1682.8,692.92L1689.8,681.72L1675.8,681.72Z"/>
<path d="M970,87.5L977.5,94.6L970,101.7L962.5,94.6Z"/>
<path d="M1029.4,90.47L1036.9,97.57L1029.4,104.67L1021.9,97.57Z"/>
<path d="M1088.8,98.2L1096.3,105.3L1088.8,112.4L1081.3,105.3Z"/>
<path d="M1207.6,147.9L1215.1,155L1207.6,162.1L1200.1,155Z"/>
<path d="M1267,200.46L1274.5,207.56L1267,214.66L1259.5,207.56Z"/>
<path d="M1326.4,255.15L1333.9,262.25L1326.4,269.35L1318.9,262.25Z"/>
<path d="M1445.2,443.61L1452.7,450.71L1445.2,457.81L1437.7,450.71Z"/>
<path d="M1564,547.05L1571.5,554.15L1564,561.25L1556.5,554.15Z"/>
<path d="M1682.8,707.56L1690.3,714.66L1682.8,721.76L1675.3,714.66Z"/>
</g></g>
<rect x="1035" y="534.2" width="156" height="196.6" fill="#fff" stroke="#8c8c8c" stroke-width="1.6"/>
<path d="M1040.2,555.6H1107.8" stroke="#777777" stroke-width="1.9"/>
<g fill="#000"><rect x="1068.4" y="550.2" width="10.8" height="10.8"/></g>
<text transform="translate(1117.3,566.6) scale(1.02,1)" font-family='"Liberation Serif", "Times New Roman", serif' font-size="30.3" fill="#262626" stroke="#262626" stroke-width="0.5" text-anchor="start">N=10</text>
<path d="M1040.2,594H1107.8" stroke="#777777" stroke-width="1.9"/>
<g fill="#000"><circle cx="1073.8" cy="594" r="6"/></g>
<text transform="translate(1117.3,605) scale(1.02,1)" font-family='"Liberation Serif", "Times New Roman", serif' font-size="30.3" fill="#262626" stroke="#262626" stroke-width="0.5" text-anchor="start">N=20</text>
<path d="M1040.2,633H1107.8" stroke="#777777" stroke-width="1.9"/>
<g fill="#000"><path d="M1073.8,625.53L1080.8,636.73L1066.8,636.73Z"/></g>
<text transform="translate(1117.3,644) scale(1.02,1)" font-family='"Liberation Serif", "Times New Roman", serif' font-size="30.3" fill="#262626" stroke="#262626" stroke-width="0.5" text-anchor="start">N=30</text>
<path d="M1040.2,672H1107.8" stroke="#777777" stroke-width="1.9"/>
<g fill="#000"><path d="M1073.8,679.47L1080.8,668.27L1066.8,668.27Z"/></g>
<text transform="translate(1117.3,683) scale(1.02,1)" font-family='"Liberation Serif", "Times New Roman", serif' font-size="30.3" fill="#262626" stroke="#262626" stroke-width="0.5" text-anchor="start">N=40</text>
<path d="M1040.2,710.5H1107.8" stroke="#777777" stroke-width="1.9"/>
<g fill="#000"><path d="M1073.8,703.4L1081.3,710.5L1073.8,717.6L1066.3,710.5Z"/></g>
<text transform="translate(1117.3,721.5) scale(1.02,1)" font-family='"Liberation Serif", "Times New Roman", serif' font-size="30.3" fill="#262626" stroke="#262626" stroke-width="0.5" text-anchor="start">N=50</text>
<text transform="translate(1338.9,778.1) scale(0.94,1)" font-family='"Liberation Sans", Arial, sans-serif' font-size="44" fill="#111" text-anchor="middle">FMH-1</text>
<clipPath id="cp3"><rect x="136.6" y="918" width="742.9" height="583.24"/></clipPath>
<path d="M136.6,918H879.5M136.6,918V1501.24M196,918v5.5M255.4,918v10.2M314.8,918v5.5M374.2,918v10.2M433.6,918v5.5M493,918v10.2M552.4,918v5.5M611.8,918v10.2M671.2,918v5.5M730.6,918v10.2M790,918v5.5M849.4,918v10.2M136.6,959.66h5.5M136.6,1001.32h11M136.6,1042.98h5.5M136.6,1084.64h11M136.6,1126.3h5.5M136.6,1167.96h11M136.6,1209.62h5.5M136.6,1251.28h11M136.6,1292.94h5.5M136.6,1334.6h11M136.6,1376.26h5.5M136.6,1417.92h11M136.6,1459.58h5.5M136.6,1501.24h11" stroke="#6b6b6b" stroke-width="2" fill="none"/>
<text transform="translate(136.6,900) scale(1.17,1)" font-family='"Liberation Serif", "Times New Roman", serif' font-size="20" fill="#262626" stroke="#262626" stroke-width="0.5" text-anchor="middle">0</text>
<text transform="translate(255.4,900) scale(1.17,1)" font-family='"Liberation Serif", "Times New Roman", serif' font-size="20" fill="#262626" stroke="#262626" stroke-width="0.5" text-anchor="middle">20</text>
<text transform="translate(374.2,900) scale(1.17,1)" font-family='"Liberation Serif", "Times New Roman", serif' font-size="20" fill="#262626" stroke="#262626" stroke-width="0.5" text-anchor="middle">40</text>
<text transform="translate(493,900) scale(1.17,1)" font-family='"Liberation Serif", "Times New Roman", serif' font-size="20" fill="#262626" stroke="#262626" stroke-width="0.5" text-anchor="middle">60</text>
<text transform="translate(611.8,900) scale(1.17,1)" font-family='"Liberation Serif", "Times New Roman", serif' font-size="20" fill="#262626" stroke="#262626" stroke-width="0.5" text-anchor="middle">80</text>
<text transform="translate(730.6,900) scale(1.17,1)" font-family='"Liberation Serif", "Times New Roman", serif' font-size="20" fill="#262626" stroke="#262626" stroke-width="0.5" text-anchor="middle">100</text>
<text transform="translate(849.4,900) scale(1.17,1)" font-family='"Liberation Serif", "Times New Roman", serif' font-size="20" fill="#262626" stroke="#262626" stroke-width="0.5" text-anchor="middle">120</text>
<text transform="translate(124,924.8) scale(1.17,1)" font-family='"Liberation Serif", "Times New Roman", serif' font-size="20" fill="#262626" stroke="#262626" stroke-width="0.5" text-anchor="end">0.0</text>
<text transform="translate(124,1008.12) scale(1.17,1)" font-family='"Liberation Serif", "Times New Roman", serif' font-size="20" fill="#262626" stroke="#262626" stroke-width="0.5" text-anchor="end">0.2</text>
<text transform="translate(124,1091.44) scale(1.17,1)" font-family='"Liberation Serif", "Times New Roman", serif' font-size="20" fill="#262626" stroke="#262626" stroke-width="0.5" text-anchor="end">0.4</text>
<text transform="translate(124,1174.76) scale(1.17,1)" font-family='"Liberation Serif", "Times New Roman", serif' font-size="20" fill="#262626" stroke="#262626" stroke-width="0.5" text-anchor="end">0.6</text>
<text transform="translate(124,1258.08) scale(1.17,1)" font-family='"Liberation Serif", "Times New Roman", serif' font-size="20" fill="#262626" stroke="#262626" stroke-width="0.5" text-anchor="end">0.8</text>
<text transform="translate(124,1341.4) scale(1.17,1)" font-family='"Liberation Serif", "Times New Roman", serif' font-size="20" fill="#262626" stroke="#262626" stroke-width="0.5" text-anchor="end">1.0</text>
<text transform="translate(124,1424.72) scale(1.17,1)" font-family='"Liberation Serif", "Times New Roman", serif' font-size="20" fill="#262626" stroke="#262626" stroke-width="0.5" text-anchor="end">1.2</text>
<text transform="translate(124,1508.04) scale(1.17,1)" font-family='"Liberation Serif", "Times New Roman", serif' font-size="20" fill="#262626" stroke="#262626" stroke-width="0.5" text-anchor="end">1.4</text>
<text transform="translate(507.75,867.1) scale(1.17,1)" font-family='"Liberation Serif", "Times New Roman", serif' font-size="27" fill="#262626" stroke="#262626" stroke-width="0.5" text-anchor="middle">σd / kPa</text>
<text transform="translate(41.2,1208.9) rotate(-90) scale(0.914,1)" font-family='"Liberation Serif", "Times New Roman", serif' font-size="30.8" fill="#262626" stroke="#262626" stroke-width="0.5" text-anchor="middle">εp / %</text>
<g clip-path="url(#cp3)">
<g stroke="#000" stroke-opacity="0.54" stroke-width="1.9" fill="none" stroke-linejoin="round">
<polyline points="136.6,918.0 140.6,918.5 144.6,919.1 148.5,919.6 152.5,920.1 156.5,920.6 160.5,921.1 164.5,921.6 168.5,922.1 172.4,922.7 176.4,923.2 180.4,923.7 184.4,924.2 188.4,924.7 192.3,925.2 196.3,925.7 200.3,926.2 204.3,926.7 208.3,927.2 212.3,927.7 216.2,928.2 220.2,928.7 224.2,929.3 228.2,929.8 232.2,930.5 236.2,931.2 240.1,931.9 244.1,932.8 248.1,933.7 252.1,934.7 256.1,935.7 260.0,936.8 264.0,937.9 268.0,939.1 272.0,940.3 276.0,941.6 280.0,942.9 283.9,944.2 287.9,945.5 291.9,946.9 295.9,948.3 299.9,949.8 303.8,951.2 307.8,952.7 311.8,954.2 315.8,955.8 319.8,957.3 323.8,958.8 327.7,960.4 331.7,962.0 335.7,963.5 339.7,965.1 343.7,966.7 347.7,968.3 351.6,969.9 355.6,971.5 359.6,973.1 363.6,974.7 367.6,976.4 371.5,978.0 375.5,979.6 379.5,981.3 383.5,982.9 387.5,984.6 391.5,986.2 395.4,987.9 399.4,989.6 403.4,991.3 407.4,993.1 411.4,994.9 415.3,996.8 419.3,998.8 423.3,1000.8 427.3,1003.0 431.3,1005.2 435.3,1007.5 439.2,1009.8 443.2,1012.3 447.2,1014.8 451.2,1017.3 455.2,1019.9 459.2,1022.6 463.1,1025.3 467.1,1028.0 471.1,1030.6 475.1,1033.1 479.1,1035.6 483.0,1038.1 487.0,1040.5 491.0,1042.8 495.0,1045.1 499.0,1047.4 503.0,1049.6 506.9,1051.7 510.9,1053.9 514.9,1056.0 518.9,1058.0 522.9,1060.1 526.8,1062.2 530.8,1064.2 534.8,1066.3 538.8,1068.3 542.8,1070.4 546.8,1072.4 550.7,1074.5 554.7,1076.6 558.7,1078.7 562.7,1080.9 566.7,1083.1 570.7,1085.4 574.6,1087.7 578.6,1090.2 582.6,1092.6 586.6,1095.2 590.6,1097.8 594.5,1100.4 598.5,1103.1 602.5,1105.9 606.5,1108.8 610.5,1111.7 614.5,1114.6 618.4,1117.7 622.4,1120.8 626.4,1123.9 630.4,1127.1 634.4,1130.4 638.3,1133.7 642.3,1137.1 646.3,1140.5 650.3,1143.9 654.3,1147.4 658.3,1150.9 662.2,1154.4 666.2,1158.0 670.2,1161.5 674.2,1165.1 678.2,1168.6 682.2,1171.9 686.1,1175.2 690.1,1178.4 694.1,1181.6 698.1,1184.6 702.1,1187.6 706.0,1190.6 710.0,1193.4 714.0,1196.2 718.0,1198.9 722.0,1201.6 726.0,1204.2 729.9,1206.8 733.9,1209.3 737.9,1211.8 741.9,1214.2 745.9,1216.5 749.8,1218.9 753.8,1221.1 757.8,1223.4 761.8,1225.5 765.8,1227.7 769.8,1229.8 773.7,1231.8 777.7,1233.9 781.7,1235.8 785.7,1237.8 789.7,1239.7 793.7,1241.6 797.6,1243.4 801.6,1245.2 805.6,1247.0 809.6,1248.8 813.6,1250.5 817.5,1252.1 821.5,1253.8 825.5,1255.4 829.5,1257.0 833.5,1258.6 837.5,1260.1 841.4,1261.7 845.4,1263.1 849.4,1264.6"/>
<polyline points="136.6,918.0 140.6,918.5 144.6,919.1 148.5,919.6 152.5,920.1 156.5,920.6 160.5,921.2 164.5,921.7 168.5,922.2 172.4,922.7 176.4,923.3 180.4,923.8 184.4,924.3 188.4,924.9 192.3,925.4 196.3,925.9 200.3,926.5 204.3,927.1 208.3,927.6 212.3,928.2 216.2,928.8 220.2,929.4 224.2,930.0 228.2,930.7 232.2,931.4 236.2,932.3 240.1,933.2 244.1,934.2 248.1,935.3 252.1,936.4 256.1,937.6 260.0,938.9 264.0,940.2 268.0,941.6 272.0,943.0 276.0,944.5 280.0,946.0 283.9,947.5 287.9,949.1 291.9,950.7 295.9,952.4 299.9,954.1 303.8,955.8 307.8,957.5 311.8,959.3 315.8,961.1 319.8,962.9 323.8,964.7 327.7,966.5 331.7,968.3 335.7,970.1 339.7,972.0 343.7,973.8 347.7,975.7 351.6,977.6 355.6,979.4 359.6,981.3 363.6,983.2 367.6,985.1 371.5,986.9 375.5,988.8 379.5,990.7 383.5,992.6 387.5,994.6 391.5,996.5 395.4,998.5 399.4,1000.4 403.4,1002.4 407.4,1004.5 411.4,1006.7 415.3,1008.9 419.3,1011.3 423.3,1013.8 427.3,1016.3 431.3,1019.1 435.3,1021.9 439.2,1024.8 443.2,1027.9 447.2,1031.0 451.2,1034.2 455.2,1037.6 459.2,1040.9 463.1,1044.4 467.1,1047.8 471.1,1051.1 475.1,1054.3 479.1,1057.5 483.0,1060.5 487.0,1063.5 491.0,1066.4 495.0,1069.2 499.0,1072.0 503.0,1074.7 506.9,1077.3 510.9,1079.9 514.9,1082.5 518.9,1085.0 522.9,1087.5 526.8,1090.0 530.8,1092.5 534.8,1094.9 538.8,1097.4 542.8,1099.8 546.8,1102.3 550.7,1104.8 554.7,1107.2 558.7,1109.8 562.7,1112.4 566.7,1115.1 570.7,1117.9 574.6,1120.8 578.6,1123.8 582.6,1126.8 586.6,1129.9 590.6,1133.1 594.5,1136.4 598.5,1139.8 602.5,1143.2 606.5,1146.7 610.5,1150.4 614.5,1154.1 618.4,1157.9 622.4,1161.8 626.4,1165.7 630.4,1169.8 634.4,1173.9 638.3,1178.1 642.3,1182.4 646.3,1186.7 650.3,1191.1 654.3,1195.5 658.3,1199.9 662.2,1204.4 666.2,1209.0 670.2,1213.5 674.2,1218.1 678.2,1222.5 682.2,1226.9 686.1,1231.1 690.1,1235.2 694.1,1239.3 698.1,1243.2 702.1,1247.1 706.0,1250.8 710.0,1254.5 714.0,1258.1 718.0,1261.7 722.0,1265.1 726.0,1268.5 729.9,1271.8 733.9,1275.1 737.9,1278.3 741.9,1281.4 745.9,1284.5 749.8,1287.5 753.8,1290.4 757.8,1293.3 761.8,1296.2 765.8,1299.0 769.8,1301.7 773.7,1304.4 777.7,1307.0 781.7,1309.6 785.7,1312.2 789.7,1314.7 793.7,1317.1 797.6,1319.6 801.6,1321.9 805.6,1324.3 809.6,1326.6 813.6,1328.8 817.5,1331.0 821.5,1333.2 825.5,1335.4 829.5,1337.5 833.5,1339.5 837.5,1341.6 841.4,1343.6 845.4,1345.6 849.4,1347.5"/>
<polyline points="136.6,919.9 140.6,920.4 144.6,920.9 148.5,921.5 152.5,922.0 156.5,922.5 160.5,923.1 164.5,923.6 168.5,924.1 172.4,924.7 176.4,925.2 180.4,925.8 184.4,926.3 188.4,926.9 192.3,927.5 196.3,928.1 200.3,928.7 204.3,929.3 208.3,929.9 212.3,930.5 216.2,931.2 220.2,931.9 224.2,932.6 228.2,933.3 232.2,934.1 236.2,935.1 240.1,936.1 244.1,937.2 248.1,938.4 252.1,939.7 256.1,941.0 260.0,942.4 264.0,943.9 268.0,945.4 272.0,947.0 276.0,948.6 280.0,950.3 283.9,952.0 287.9,953.7 291.9,955.5 295.9,957.3 299.9,959.1 303.8,961.0 307.8,962.9 311.8,964.8 315.8,966.7 319.8,968.7 323.8,970.6 327.7,972.6 331.7,974.6 335.7,976.6 339.7,978.6 343.7,980.6 347.7,982.6 351.6,984.6 355.6,986.6 359.6,988.6 363.6,990.6 367.6,992.6 371.5,994.6 375.5,996.7 379.5,998.7 383.5,1000.7 387.5,1002.7 391.5,1004.8 395.4,1006.8 399.4,1008.9 403.4,1011.0 407.4,1013.2 411.4,1015.5 415.3,1018.0 419.3,1020.6 423.3,1023.3 427.3,1026.2 431.3,1029.2 435.3,1032.4 439.2,1035.8 443.2,1039.3 447.2,1043.0 451.2,1046.8 455.2,1050.6 459.2,1054.6 463.1,1058.7 467.1,1062.7 471.1,1066.5 475.1,1070.3 479.1,1073.9 483.0,1077.4 487.0,1080.8 491.0,1084.0 495.0,1087.2 499.0,1090.3 503.0,1093.3 506.9,1096.2 510.9,1099.0 514.9,1101.8 518.9,1104.6 522.9,1107.3 526.8,1109.9 530.8,1112.6 534.8,1115.2 538.8,1117.8 542.8,1120.4 546.8,1123.1 550.7,1125.7 554.7,1128.3 558.7,1131.1 562.7,1133.9 566.7,1136.8 570.7,1139.8 574.6,1142.9 578.6,1146.1 582.6,1149.5 586.6,1152.9 590.6,1156.4 594.5,1160.0 598.5,1163.7 602.5,1167.6 606.5,1171.5 610.5,1175.6 614.5,1179.7 618.4,1184.0 622.4,1188.4 626.4,1192.8 630.4,1197.4 634.4,1202.1 638.3,1206.9 642.3,1211.7 646.3,1216.6 650.3,1221.6 654.3,1226.6 658.3,1231.7 662.2,1236.8 666.2,1242.0 670.2,1247.3 674.2,1252.5 678.2,1257.6 682.2,1262.6 686.1,1267.5 690.1,1272.2 694.1,1276.9 698.1,1281.4 702.1,1285.8 706.0,1290.2 710.0,1294.4 714.0,1298.6 718.0,1302.6 722.0,1306.6 726.0,1310.5 729.9,1314.4 733.9,1318.1 737.9,1321.8 741.9,1325.4 745.9,1328.9 749.8,1332.4 753.8,1335.8 757.8,1339.2 761.8,1342.5 765.8,1345.7 769.8,1348.8 773.7,1352.0 777.7,1355.0 781.7,1358.0 785.7,1361.0 789.7,1363.9 793.7,1366.7 797.6,1369.5 801.6,1372.2 805.6,1374.9 809.6,1377.6 813.6,1380.2 817.5,1382.8 821.5,1385.3 825.5,1387.8 829.5,1390.2 833.5,1392.6 837.5,1395.0 841.4,1397.3 845.4,1399.6 849.4,1401.9"/>
<polyline points="136.6,916.1 140.6,916.7 144.6,917.2 148.5,917.7 152.5,918.3 156.5,918.8 160.5,919.4 164.5,919.9 168.5,920.4 172.4,921.0 176.4,921.6 180.4,922.1 184.4,922.7 188.4,923.3 192.3,923.9 196.3,924.5 200.3,925.1 204.3,925.8 208.3,926.4 212.3,927.1 216.2,927.8 220.2,928.6 224.2,929.3 228.2,930.1 232.2,931.0 236.2,932.1 240.1,933.2 244.1,934.4 248.1,935.7 252.1,937.1 256.1,938.5 260.0,940.1 264.0,941.7 268.0,943.3 272.0,945.0 276.0,946.8 280.0,948.5 283.9,950.4 287.9,952.3 291.9,954.2 295.9,956.1 299.9,958.1 303.8,960.1 307.8,962.2 311.8,964.2 315.8,966.3 319.8,968.5 323.8,970.6 327.7,972.7 331.7,974.8 335.7,976.9 339.7,979.1 343.7,981.2 347.7,983.3 351.6,985.5 355.6,987.6 359.6,989.7 363.6,991.8 367.6,993.9 371.5,996.0 375.5,998.1 379.5,1000.2 383.5,1002.3 387.5,1004.4 391.5,1006.4 395.4,1008.5 399.4,1010.6 403.4,1012.8 407.4,1015.0 411.4,1017.3 415.3,1019.8 419.3,1022.5 423.3,1025.4 427.3,1028.4 431.3,1031.7 435.3,1035.2 439.2,1038.8 443.2,1042.7 447.2,1046.7 451.2,1050.8 455.2,1055.0 459.2,1059.4 463.1,1063.9 467.1,1068.3 471.1,1072.5 475.1,1076.6 479.1,1080.5 483.0,1084.3 487.0,1088.0 491.0,1091.5 495.0,1095.0 499.0,1098.4 503.0,1101.7 506.9,1104.8 510.9,1107.9 514.9,1111.0 518.9,1114.0 522.9,1116.9 526.8,1119.8 530.8,1122.6 534.8,1125.5 538.8,1128.3 542.8,1131.1 546.8,1133.9 550.7,1136.8 554.7,1139.6 558.7,1142.6 562.7,1145.7 566.7,1148.9 570.7,1152.1 574.6,1155.5 578.6,1158.9 582.6,1162.3 586.6,1165.9 590.6,1169.4 594.5,1173.0 598.5,1176.7 602.5,1180.4 606.5,1184.1 610.5,1187.9 614.5,1191.7 618.4,1195.5 622.4,1199.3 626.4,1203.2 630.4,1207.1 634.4,1211.1 638.3,1215.0 642.3,1219.0 646.3,1223.0 650.3,1227.0 654.3,1231.0 658.3,1235.1 662.2,1239.1 666.2,1243.2 670.2,1247.3 674.2,1251.4 678.2,1255.6 682.2,1259.7 686.1,1263.9 690.1,1268.0 694.1,1272.2 698.1,1276.4 702.1,1280.6 706.0,1284.9 710.0,1289.1 714.0,1293.3 718.0,1297.6 722.0,1301.9 726.0,1306.1 729.9,1310.4 733.9,1314.7 737.9,1319.0 741.9,1323.4 745.9,1327.7 749.8,1332.0 753.8,1336.4 757.8,1340.7 761.8,1345.1 765.8,1349.4 769.8,1353.8 773.7,1358.2 777.7,1362.6 781.7,1367.0 785.7,1371.4 789.7,1375.8 793.7,1380.2 797.6,1384.6 801.6,1389.1 805.6,1393.5 809.6,1398.0 813.6,1402.4 817.5,1406.9 821.5,1411.3 825.5,1415.8 829.5,1420.3 833.5,1424.7 837.5,1429.2 841.4,1433.7 845.4,1438.2 849.4,1442.7"/>
<polyline points="136.6,918.0 140.6,918.5 144.6,919.1 148.5,919.6 152.5,920.1 156.5,920.7 160.5,921.3 164.5,921.8 168.5,922.4 172.4,923.0 176.4,923.5 180.4,924.1 184.4,924.7 188.4,925.4 192.3,926.0 196.3,926.6 200.3,927.3 204.3,928.0 208.3,928.7 212.3,929.5 216.2,930.2 220.2,931.0 224.2,931.9 228.2,932.8 232.2,933.8 236.2,934.9 240.1,936.2 244.1,937.5 248.1,938.9 252.1,940.5 256.1,942.0 260.0,943.7 264.0,945.5 268.0,947.3 272.0,949.1 276.0,951.0 280.0,953.0 283.9,955.0 287.9,957.0 291.9,959.1 295.9,961.2 299.9,963.4 303.8,965.6 307.8,967.8 311.8,970.1 315.8,972.3 319.8,974.6 323.8,976.9 327.7,979.2 331.7,981.5 335.7,983.8 339.7,986.1 343.7,988.4 347.7,990.7 351.6,993.0 355.6,995.3 359.6,997.5 363.6,999.8 367.6,1002.0 371.5,1004.3 375.5,1006.5 379.5,1008.7 383.5,1010.9 387.5,1013.1 391.5,1015.3 395.4,1017.4 399.4,1019.6 403.4,1021.8 407.4,1024.1 411.4,1026.6 415.3,1029.2 419.3,1032.0 423.3,1035.0 427.3,1038.2 431.3,1041.6 435.3,1045.2 439.2,1049.1 443.2,1053.2 447.2,1057.4 451.2,1061.8 455.2,1066.4 459.2,1071.1 463.1,1075.9 467.1,1080.6 471.1,1085.2 475.1,1089.6 479.1,1093.8 483.0,1097.9 487.0,1101.9 491.0,1105.7 495.0,1109.3 499.0,1112.9 503.0,1116.3 506.9,1119.6 510.9,1122.8 514.9,1126.0 518.9,1129.1 522.9,1132.1 526.8,1135.0 530.8,1138.0 534.8,1140.9 538.8,1143.7 542.8,1146.6 546.8,1149.5 550.7,1152.3 554.7,1155.1 558.7,1158.1 562.7,1161.1 566.7,1164.2 570.7,1167.4 574.6,1170.7 578.6,1174.1 582.6,1177.5 586.6,1181.1 590.6,1184.8 594.5,1188.6 598.5,1192.4 602.5,1196.4 606.5,1200.5 610.5,1204.6 614.5,1208.9 618.4,1213.3 622.4,1217.8 626.4,1222.4 630.4,1227.1 634.4,1231.9 638.3,1236.7 642.3,1241.7 646.3,1246.7 650.3,1251.8 654.3,1257.0 658.3,1262.2 662.2,1267.5 666.2,1272.9 670.2,1278.3 674.2,1283.8 678.2,1289.2 682.2,1294.5 686.1,1299.7 690.1,1304.9 694.1,1310.0 698.1,1315.0 702.1,1320.0 706.0,1325.0 710.0,1329.8 714.0,1334.7 718.0,1339.4 722.0,1344.2 726.0,1348.9 729.9,1353.5 733.9,1358.1 737.9,1362.6 741.9,1367.2 745.9,1371.6 749.8,1376.1 753.8,1380.4 757.8,1384.8 761.8,1389.1 765.8,1393.4 769.8,1397.6 773.7,1401.9 777.7,1406.0 781.7,1410.2 785.7,1414.3 789.7,1418.4 793.7,1422.4 797.6,1426.4 801.6,1430.4 805.6,1434.4 809.6,1438.3 813.6,1442.2 817.5,1446.1 821.5,1450.0 825.5,1453.8 829.5,1457.6 833.5,1461.4 837.5,1465.1 841.4,1468.9 845.4,1472.6 849.4,1476.2"/>
</g>
<g fill="#000">
<rect x="131.2" y="912.6" width="10.8" height="10.8"/>
<rect x="190.6" y="920.52" width="10.8" height="10.8"/>
<rect x="250" y="925.93" width="10.8" height="10.8"/>
<rect x="368.8" y="973.42" width="10.8" height="10.8"/>
<rect x="428.2" y="998.42" width="10.8" height="10.8"/>
<rect x="487.6" y="1041.75" width="10.8" height="10.8"/>
<rect x="606.4" y="1096.74" width="10.8" height="10.8"/>
<rect x="725.2" y="1215.88" width="10.8" height="10.8"/>
<rect x="844" y="1259.21" width="10.8" height="10.8"/>
<circle cx="136.6" cy="918" r="6"/>
<circle cx="196" cy="925.92" r="6"/>
<circle cx="255.4" cy="932.58" r="6"/>
<circle cx="374.2" cy="987.99" r="6"/>
<circle cx="433.6" cy="1016.73" r="6"/>
<circle cx="493" cy="1072.56" r="6"/>
<circle cx="611.8" cy="1137.13" r="6"/>
<circle cx="730.6" cy="1290.02" r="6"/>
<circle cx="849.4" cy="1347.51" r="6"/>
<path d="M136.6,912.4L143.6,923.6L129.6,923.6Z"/>
<path d="M196,920.32L203,931.52L189,931.52Z"/>
<path d="M255.4,928.23L262.4,939.43L248.4,939.43Z"/>
<path d="M374.2,988.64L381.2,999.84L367.2,999.84Z"/>
<path d="M433.6,1018.22L440.6,1029.42L426.6,1029.42Z"/>
<path d="M493,1084.87L500,1096.07L486,1096.07Z"/>
<path d="M611.8,1151.53L618.8,1162.73L604.8,1162.73Z"/>
<path d="M730.6,1327.75L737.6,1338.95L723.6,1338.95Z"/>
<path d="M849.4,1394.41L856.4,1405.61L842.4,1405.61Z"/>
<path d="M136.6,923.6L143.6,912.4L129.6,912.4Z"/>
<path d="M196,931.52L203,920.32L189,920.32Z"/>
<path d="M255.4,940.26L262.4,929.06L248.4,929.06Z"/>
<path d="M374.2,1005.67L381.2,994.47L367.2,994.47Z"/>
<path d="M433.6,1034.42L440.6,1023.22L426.6,1023.22Z"/>
<path d="M493,1109.4L500,1098.2L486,1098.2Z"/>
<path d="M611.8,1181.48L618.8,1170.28L604.8,1170.28Z"/>
<path d="M849.4,1450.18L856.4,1438.98L842.4,1438.98Z"/>
<path d="M136.6,910.9L144.1,918L136.6,925.1L129.1,918Z"/>
<path d="M196,918.82L203.5,925.92L196,933.02L188.5,925.92Z"/>
<path d="M255.4,928.81L262.9,935.91L255.4,943.01L247.9,935.91Z"/>
<path d="M374.2,999.89L381.7,1006.99L374.2,1014.09L366.7,1006.99Z"/>
<path d="M433.6,1029.21L441.1,1036.31L433.6,1043.41L426.1,1036.31Z"/>
<path d="M493,1109.2L500.5,1116.3L493,1123.4L485.5,1116.3Z"/>
<path d="M611.8,1181.69L619.3,1188.79L611.8,1195.89L604.3,1188.79Z"/>
<path d="M730.6,1359.58L738.1,1366.68L730.6,1373.78L723.1,1366.68Z"/>
<path d="M849.4,1469.14L856.9,1476.24L849.4,1483.34L841.9,1476.24Z"/>
</g></g>
<rect x="201.6" y="1310.9" width="156.6" height="174.7" fill="#fff" stroke="#8c8c8c" stroke-width="1.6"/>
<path d="M206.1,1329.3H275.5" stroke="#777777" stroke-width="1.9"/>
<g fill="#000"><rect x="235" y="1323.9" width="10.8" height="10.8"/></g>
<text transform="translate(283.9,1339.3) scale(1.15,1)" font-family='"Liberation Serif", "Times New Roman", serif' font-size="26.5" fill="#262626" stroke="#262626" stroke-width="0.5" text-anchor="start">N=10</text>
<path d="M206.1,1363.7H275.5" stroke="#777777" stroke-width="1.9"/>
<g fill="#000"><circle cx="240.4" cy="1363.7" r="6"/></g>
<text transform="translate(283.9,1373.7) scale(1.15,1)" font-family='"Liberation Serif", "Times New Roman", serif' font-size="26.5" fill="#262626" stroke="#262626" stroke-width="0.5" text-anchor="start">N=20</text>
<path d="M206.1,1398.1H275.5" stroke="#777777" stroke-width="1.9"/>
<g fill="#000"><path d="M240.4,1390.63L247.4,1401.83L233.4,1401.83Z"/></g>
<text transform="translate(283.9,1408.1) scale(1.15,1)" font-family='"Liberation Serif", "Times New Roman", serif' font-size="26.5" fill="#262626" stroke="#262626" stroke-width="0.5" text-anchor="start">N=30</text>
<path d="M206.1,1432.5H275.5" stroke="#777777" stroke-width="1.9"/>
<g fill="#000"><path d="M240.4,1439.97L247.4,1428.77L233.4,1428.77Z"/></g>
<text transform="translate(283.9,1442.5) scale(1.15,1)" font-family='"Liberation Serif", "Times New Roman", serif' font-size="26.5" fill="#262626" stroke="#262626" stroke-width="0.5" text-anchor="start">N=40</text>
<path d="M206.1,1466.9H275.5" stroke="#777777" stroke-width="1.9"/>
<g fill="#000"><path d="M240.4,1459.8L247.9,1466.9L240.4,1474L232.9,1466.9Z"/></g>
<text transform="translate(283.9,1476.9) scale(1.15,1)" font-family='"Liberation Serif", "Times New Roman", serif' font-size="26.5" fill="#262626" stroke="#262626" stroke-width="0.5" text-anchor="start">N=50</text>
<text transform="translate(501.7,1524.2) scale(1.08,1)" font-family='"Liberation Sans", Arial, sans-serif' font-size="38.6" fill="#111" text-anchor="middle">QH-1</text>
<clipPath id="cp4"><rect x="986" y="918" width="743" height="583.24"/></clipPath>
<path d="M986,918H1729M986,918V1501.24M1045.43,918v5.5M1104.86,918v10.2M1164.29,918v5.5M1223.72,918v10.2M1283.15,918v5.5M1342.58,918v10.2M1402.01,918v5.5M1461.44,918v10.2M1520.87,918v5.5M1580.3,918v10.2M1639.73,918v5.5M1699.16,918v10.2M986,959.66h5.5M986,1001.32h11M986,1042.98h5.5M986,1084.64h11M986,1126.3h5.5M986,1167.96h11M986,1209.62h5.5M986,1251.28h11M986,1292.94h5.5M986,1334.6h11M986,1376.26h5.5M986,1417.92h11M986,1459.58h5.5M986,1501.24h11" stroke="#6b6b6b" stroke-width="2" fill="none"/>
<text transform="translate(986,900) scale(1.17,1)" font-family='"Liberation Serif", "Times New Roman", serif' font-size="20" fill="#262626" stroke="#262626" stroke-width="0.5" text-anchor="middle">0</text>
<text transform="translate(1104.86,900) scale(1.17,1)" font-family='"Liberation Serif", "Times New Roman", serif' font-size="20" fill="#262626" stroke="#262626" stroke-width="0.5" text-anchor="middle">20</text>
<text transform="translate(1223.72,900) scale(1.17,1)" font-family='"Liberation Serif", "Times New Roman", serif' font-size="20" fill="#262626" stroke="#262626" stroke-width="0.5" text-anchor="middle">40</text>
<text transform="translate(1342.58,900) scale(1.17,1)" font-family='"Liberation Serif", "Times New Roman", serif' font-size="20" fill="#262626" stroke="#262626" stroke-width="0.5" text-anchor="middle">60</text>
<text transform="translate(1461.44,900) scale(1.17,1)" font-family='"Liberation Serif", "Times New Roman", serif' font-size="20" fill="#262626" stroke="#262626" stroke-width="0.5" text-anchor="middle">80</text>
<text transform="translate(1580.3,900) scale(1.17,1)" font-family='"Liberation Serif", "Times New Roman", serif' font-size="20" fill="#262626" stroke="#262626" stroke-width="0.5" text-anchor="middle">100</text>
<text transform="translate(1699.16,900) scale(1.17,1)" font-family='"Liberation Serif", "Times New Roman", serif' font-size="20" fill="#262626" stroke="#262626" stroke-width="0.5" text-anchor="middle">120</text>
<text transform="translate(973,924.8) scale(1.17,1)" font-family='"Liberation Serif", "Times New Roman", serif' font-size="20" fill="#262626" stroke="#262626" stroke-width="0.5" text-anchor="end">0.0</text>
<text transform="translate(973,1008.12) scale(1.17,1)" font-family='"Liberation Serif", "Times New Roman", serif' font-size="20" fill="#262626" stroke="#262626" stroke-width="0.5" text-anchor="end">0.2</text>
<text transform="translate(973,1091.44) scale(1.17,1)" font-family='"Liberation Serif", "Times New Roman", serif' font-size="20" fill="#262626" stroke="#262626" stroke-width="0.5" text-anchor="end">0.4</text>
<text transform="translate(973,1174.76) scale(1.17,1)" font-family='"Liberation Serif", "Times New Roman", serif' font-size="20" fill="#262626" stroke="#262626" stroke-width="0.5" text-anchor="end">0.6</text>
<text transform="translate(973,1258.08) scale(1.17,1)" font-family='"Liberation Serif", "Times New Roman", serif' font-size="20" fill="#262626" stroke="#262626" stroke-width="0.5" text-anchor="end">0.8</text>
<text transform="translate(973,1341.4) scale(1.17,1)" font-family='"Liberation Serif", "Times New Roman", serif' font-size="20" fill="#262626" stroke="#262626" stroke-width="0.5" text-anchor="end">1.0</text>
<text transform="translate(973,1424.72) scale(1.17,1)" font-family='"Liberation Serif", "Times New Roman", serif' font-size="20" fill="#262626" stroke="#262626" stroke-width="0.5" text-anchor="end">1.2</text>
<text transform="translate(973,1508.04) scale(1.17,1)" font-family='"Liberation Serif", "Times New Roman", serif' font-size="20" fill="#262626" stroke="#262626" stroke-width="0.5" text-anchor="end">1.4</text>
<text transform="translate(1357.2,867.1) scale(1.17,1)" font-family='"Liberation Serif", "Times New Roman", serif' font-size="27" fill="#262626" stroke="#262626" stroke-width="0.5" text-anchor="middle">σd / kPa</text>
<text transform="translate(889.8,1208.6) rotate(-90) scale(0.914,1)" font-family='"Liberation Serif", "Times New Roman", serif' font-size="30.8" fill="#262626" stroke="#262626" stroke-width="0.5" text-anchor="middle">εp / %</text>
<g clip-path="url(#cp4)">
<g stroke="#000" stroke-opacity="0.54" stroke-width="1.9" fill="none" stroke-linejoin="round">
<polyline points="986.0,918.0 990.0,918.5 994.0,918.9 998.0,919.4 1001.9,919.9 1005.9,920.3 1009.9,920.8 1013.9,921.2 1017.9,921.7 1021.9,922.1 1025.8,922.6 1029.8,923.0 1033.8,923.4 1037.8,923.9 1041.8,924.3 1045.8,924.7 1049.7,925.1 1053.7,925.5 1057.7,926.0 1061.7,926.4 1065.7,926.8 1069.7,927.2 1073.7,927.6 1077.6,928.0 1081.6,928.4 1085.6,928.9 1089.6,929.5 1093.6,930.1 1097.6,930.7 1101.5,931.3 1105.5,932.0 1109.5,932.7 1113.5,933.4 1117.5,934.1 1121.5,934.9 1125.4,935.7 1129.4,936.5 1133.4,937.4 1137.4,938.2 1141.4,939.1 1145.4,940.0 1149.3,940.9 1153.3,941.8 1157.3,942.8 1161.3,943.7 1165.3,944.7 1169.3,945.7 1173.3,946.7 1177.2,947.8 1181.2,948.8 1185.2,949.9 1189.2,951.0 1193.2,952.1 1197.2,953.2 1201.1,954.4 1205.1,955.6 1209.1,956.8 1213.1,958.1 1217.1,959.4 1221.1,960.7 1225.0,962.1 1229.0,963.5 1233.0,965.0 1237.0,966.5 1241.0,968.0 1245.0,969.6 1249.0,971.3 1252.9,973.0 1256.9,974.7 1260.9,976.4 1264.9,978.1 1268.9,979.6 1272.9,981.1 1276.8,982.6 1280.8,983.9 1284.8,985.2 1288.8,986.4 1292.8,987.5 1296.8,988.5 1300.7,989.5 1304.7,990.5 1308.7,991.4 1312.7,992.4 1316.7,993.3 1320.7,994.4 1324.7,995.7 1328.6,997.0 1332.6,998.5 1336.6,1000.0 1340.6,1001.6 1344.6,1003.3 1348.6,1005.0 1352.5,1006.9 1356.5,1008.7 1360.5,1010.7 1364.5,1012.7 1368.5,1014.7 1372.5,1016.8 1376.4,1018.9 1380.4,1021.1 1384.4,1023.2 1388.4,1025.4 1392.4,1027.6 1396.4,1029.8 1400.3,1032.1 1404.3,1034.3 1408.3,1036.5 1412.3,1038.7 1416.3,1040.8 1420.3,1042.9 1424.3,1044.9 1428.2,1047.0 1432.2,1049.0 1436.2,1051.0 1440.2,1053.0 1444.2,1055.0 1448.2,1057.0 1452.1,1058.9 1456.1,1060.8 1460.1,1062.8 1464.1,1064.7 1468.1,1066.6 1472.1,1068.5 1476.0,1070.4 1480.0,1072.3 1484.0,1074.1 1488.0,1076.0 1492.0,1077.9 1496.0,1079.7 1500.0,1081.6 1503.9,1083.4 1507.9,1085.2 1511.9,1087.0 1515.9,1088.9 1519.9,1090.7 1523.9,1092.5 1527.8,1094.3 1531.8,1096.1 1535.8,1097.9 1539.8,1099.7 1543.8,1101.4 1547.8,1103.2 1551.7,1105.0 1555.7,1106.8 1559.7,1108.5 1563.7,1110.3 1567.7,1112.0 1571.7,1113.8 1575.7,1115.5 1579.6,1117.3 1583.6,1119.0 1587.6,1120.8 1591.6,1122.5 1595.6,1124.2 1599.6,1126.0 1603.5,1127.7 1607.5,1129.4 1611.5,1131.1 1615.5,1132.9 1619.5,1134.6 1623.5,1136.3 1627.4,1138.0 1631.4,1139.7 1635.4,1141.4 1639.4,1143.1 1643.4,1144.8 1647.4,1146.5 1651.4,1148.2 1655.3,1149.9 1659.3,1151.6 1663.3,1153.3 1667.3,1155.0 1671.3,1156.6 1675.3,1158.3 1679.2,1160.0 1683.2,1161.7 1687.2,1163.4 1691.2,1165.0 1695.2,1166.7 1699.2,1168.4"/>
<polyline points="986.0,918.0 990.0,918.5 994.0,918.9 998.0,919.4 1001.9,919.9 1005.9,920.4 1009.9,920.8 1013.9,921.3 1017.9,921.8 1021.9,922.2 1025.8,922.7 1029.8,923.1 1033.8,923.6 1037.8,924.1 1041.8,924.5 1045.8,925.0 1049.7,925.5 1053.7,925.9 1057.7,926.4 1061.7,926.9 1065.7,927.3 1069.7,927.8 1073.7,928.3 1077.6,928.8 1081.6,929.4 1085.6,929.9 1089.6,930.6 1093.6,931.3 1097.6,932.0 1101.5,932.7 1105.5,933.5 1109.5,934.3 1113.5,935.1 1117.5,936.0 1121.5,936.9 1125.4,937.8 1129.4,938.7 1133.4,939.7 1137.4,940.6 1141.4,941.6 1145.4,942.7 1149.3,943.7 1153.3,944.7 1157.3,945.8 1161.3,946.9 1165.3,948.0 1169.3,949.1 1173.3,950.3 1177.2,951.5 1181.2,952.7 1185.2,953.9 1189.2,955.1 1193.2,956.4 1197.2,957.8 1201.1,959.1 1205.1,960.5 1209.1,961.9 1213.1,963.4 1217.1,964.9 1221.1,966.5 1225.0,968.1 1229.0,969.8 1233.0,971.5 1237.0,973.3 1241.0,975.1 1245.0,977.1 1249.0,979.0 1252.9,981.1 1256.9,983.2 1260.9,985.2 1264.9,987.2 1268.9,989.1 1272.9,990.9 1276.8,992.7 1280.8,994.3 1284.8,995.8 1288.8,997.2 1292.8,998.5 1296.8,999.8 1300.7,1001.0 1304.7,1002.1 1308.7,1003.2 1312.7,1004.3 1316.7,1005.5 1320.7,1006.8 1324.7,1008.3 1328.6,1009.9 1332.6,1011.6 1336.6,1013.4 1340.6,1015.3 1344.6,1017.4 1348.6,1019.5 1352.5,1021.7 1356.5,1023.9 1360.5,1026.3 1364.5,1028.7 1368.5,1031.1 1372.5,1033.6 1376.4,1036.2 1380.4,1038.8 1384.4,1041.4 1388.4,1044.1 1392.4,1046.7 1396.4,1049.4 1400.3,1052.1 1404.3,1054.8 1408.3,1057.5 1412.3,1060.1 1416.3,1062.7 1420.3,1065.3 1424.3,1067.8 1428.2,1070.3 1432.2,1072.8 1436.2,1075.2 1440.2,1077.7 1444.2,1080.1 1448.2,1082.5 1452.1,1084.9 1456.1,1087.3 1460.1,1089.7 1464.1,1092.0 1468.1,1094.4 1472.1,1096.7 1476.0,1099.0 1480.0,1101.4 1484.0,1103.7 1488.0,1106.0 1492.0,1108.3 1496.0,1110.5 1500.0,1112.8 1503.9,1115.1 1507.9,1117.4 1511.9,1119.6 1515.9,1121.9 1519.9,1124.1 1523.9,1126.3 1527.8,1128.6 1531.8,1130.8 1535.8,1133.0 1539.8,1135.2 1543.8,1137.4 1547.8,1139.6 1551.7,1141.8 1555.7,1144.0 1559.7,1146.2 1563.7,1148.4 1567.7,1150.6 1571.7,1152.8 1575.7,1154.9 1579.6,1157.1 1583.6,1159.3 1587.6,1161.4 1591.6,1163.6 1595.6,1165.7 1599.6,1167.9 1603.5,1170.0 1607.5,1172.2 1611.5,1174.3 1615.5,1176.4 1619.5,1178.6 1623.5,1180.7 1627.4,1182.8 1631.4,1185.0 1635.4,1187.1 1639.4,1189.2 1643.4,1191.3 1647.4,1193.4 1651.4,1195.5 1655.3,1197.6 1659.3,1199.7 1663.3,1201.8 1667.3,1203.9 1671.3,1206.0 1675.3,1208.1 1679.2,1210.2 1683.2,1212.3 1687.2,1214.4 1691.2,1216.5 1695.2,1218.6 1699.2,1220.7"/>
<polyline points="986.0,919.9 990.0,920.3 994.0,920.8 998.0,921.3 1001.9,921.8 1005.9,922.2 1009.9,922.7 1013.9,923.2 1017.9,923.7 1021.9,924.2 1025.8,924.6 1029.8,925.1 1033.8,925.6 1037.8,926.1 1041.8,926.6 1045.8,927.1 1049.7,927.6 1053.7,928.1 1057.7,928.6 1061.7,929.2 1065.7,929.7 1069.7,930.2 1073.7,930.8 1077.6,931.4 1081.6,932.0 1085.6,932.6 1089.6,933.4 1093.6,934.1 1097.6,934.9 1101.5,935.7 1105.5,936.6 1109.5,937.4 1113.5,938.4 1117.5,939.3 1121.5,940.3 1125.4,941.2 1129.4,942.2 1133.4,943.3 1137.4,944.3 1141.4,945.4 1145.4,946.5 1149.3,947.6 1153.3,948.7 1157.3,949.9 1161.3,951.0 1165.3,952.2 1169.3,953.4 1173.3,954.6 1177.2,955.9 1181.2,957.2 1185.2,958.5 1189.2,959.8 1193.2,961.2 1197.2,962.6 1201.1,964.0 1205.1,965.5 1209.1,967.0 1213.1,968.5 1217.1,970.2 1221.1,971.8 1225.0,973.5 1229.0,975.3 1233.0,977.2 1237.0,979.1 1241.0,981.0 1245.0,983.1 1249.0,985.2 1252.9,987.4 1256.9,989.6 1260.9,991.8 1264.9,993.9 1268.9,995.9 1272.9,997.8 1276.8,999.7 1280.8,1001.5 1284.8,1003.1 1288.8,1004.7 1292.8,1006.2 1296.8,1007.5 1300.7,1008.9 1304.7,1010.2 1308.7,1011.4 1312.7,1012.7 1316.7,1014.0 1320.7,1015.5 1324.7,1017.2 1328.6,1019.0 1332.6,1020.9 1336.6,1022.9 1340.6,1025.1 1344.6,1027.3 1348.6,1029.7 1352.5,1032.1 1356.5,1034.6 1360.5,1037.2 1364.5,1039.8 1368.5,1042.6 1372.5,1045.3 1376.4,1048.2 1380.4,1051.0 1384.4,1053.9 1388.4,1056.8 1392.4,1059.8 1396.4,1062.7 1400.3,1065.7 1404.3,1068.7 1408.3,1071.7 1412.3,1074.6 1416.3,1077.5 1420.3,1080.3 1424.3,1083.1 1428.2,1085.9 1432.2,1088.7 1436.2,1091.4 1440.2,1094.2 1444.2,1096.9 1448.2,1099.6 1452.1,1102.3 1456.1,1105.0 1460.1,1107.7 1464.1,1110.3 1468.1,1113.0 1472.1,1115.6 1476.0,1118.2 1480.0,1120.9 1484.0,1123.5 1488.0,1126.1 1492.0,1128.7 1496.0,1131.3 1500.0,1133.8 1503.9,1136.4 1507.9,1139.0 1511.9,1141.5 1515.9,1144.1 1519.9,1146.6 1523.9,1149.2 1527.8,1151.7 1531.8,1154.2 1535.8,1156.8 1539.8,1159.3 1543.8,1161.8 1547.8,1164.3 1551.7,1166.8 1555.7,1169.3 1559.7,1171.8 1563.7,1174.3 1567.7,1176.8 1571.7,1179.3 1575.7,1181.8 1579.6,1184.2 1583.6,1186.7 1587.6,1189.2 1591.6,1191.6 1595.6,1194.1 1599.6,1196.5 1603.5,1199.0 1607.5,1201.5 1611.5,1203.9 1615.5,1206.3 1619.5,1208.8 1623.5,1211.2 1627.4,1213.7 1631.4,1216.1 1635.4,1218.5 1639.4,1221.0 1643.4,1223.4 1647.4,1225.8 1651.4,1228.2 1655.3,1230.6 1659.3,1233.0 1663.3,1235.5 1667.3,1237.9 1671.3,1240.3 1675.3,1242.7 1679.2,1245.1 1683.2,1247.5 1687.2,1249.9 1691.2,1252.3 1695.2,1254.7 1699.2,1257.1"/>
<polyline points="986.0,916.1 990.0,916.6 994.0,917.1 998.0,917.6 1001.9,918.0 1005.9,918.5 1009.9,919.0 1013.9,919.5 1017.9,920.0 1021.9,920.5 1025.8,921.0 1029.8,921.5 1033.8,922.0 1037.8,922.6 1041.8,923.1 1045.8,923.6 1049.7,924.2 1053.7,924.7 1057.7,925.3 1061.7,925.9 1065.7,926.4 1069.7,927.1 1073.7,927.7 1077.6,928.3 1081.6,929.0 1085.6,929.8 1089.6,930.6 1093.6,931.4 1097.6,932.3 1101.5,933.2 1105.5,934.1 1109.5,935.1 1113.5,936.1 1117.5,937.1 1121.5,938.1 1125.4,939.2 1129.4,940.3 1133.4,941.4 1137.4,942.5 1141.4,943.7 1145.4,944.8 1149.3,946.0 1153.3,947.2 1157.3,948.5 1161.3,949.7 1165.3,951.0 1169.3,952.3 1173.3,953.6 1177.2,954.9 1181.2,956.3 1185.2,957.7 1189.2,959.1 1193.2,960.6 1197.2,962.0 1201.1,963.6 1205.1,965.1 1209.1,966.7 1213.1,968.4 1217.1,970.1 1221.1,971.9 1225.0,973.7 1229.0,975.5 1233.0,977.5 1237.0,979.5 1241.0,981.5 1245.0,983.7 1249.0,985.9 1252.9,988.2 1256.9,990.5 1260.9,992.8 1264.9,995.1 1268.9,997.2 1272.9,999.3 1276.8,1001.3 1280.8,1003.1 1284.8,1004.9 1288.8,1006.6 1292.8,1008.2 1296.8,1009.7 1300.7,1011.2 1304.7,1012.7 1308.7,1014.1 1312.7,1015.5 1316.7,1016.9 1320.7,1018.6 1324.7,1020.4 1328.6,1022.4 1332.6,1024.5 1336.6,1026.8 1340.6,1029.1 1344.6,1031.6 1348.6,1034.2 1352.5,1036.8 1356.5,1039.5 1360.5,1042.3 1364.5,1045.2 1368.5,1048.2 1372.5,1051.2 1376.4,1054.2 1380.4,1057.3 1384.4,1060.5 1388.4,1063.6 1392.4,1066.8 1396.4,1070.1 1400.3,1073.3 1404.3,1076.6 1408.3,1079.8 1412.3,1082.9 1416.3,1086.1 1420.3,1089.2 1424.3,1092.2 1428.2,1095.3 1432.2,1098.3 1436.2,1101.4 1440.2,1104.4 1444.2,1107.3 1448.2,1110.3 1452.1,1113.3 1456.1,1116.2 1460.1,1119.2 1464.1,1122.1 1468.1,1125.0 1472.1,1127.9 1476.0,1130.8 1480.0,1133.7 1484.0,1136.6 1488.0,1139.4 1492.0,1142.3 1496.0,1145.1 1500.0,1148.0 1503.9,1150.8 1507.9,1153.7 1511.9,1156.5 1515.9,1159.3 1519.9,1162.1 1523.9,1164.9 1527.8,1167.7 1531.8,1170.5 1535.8,1173.3 1539.8,1176.1 1543.8,1178.9 1547.8,1181.7 1551.7,1184.4 1555.7,1187.2 1559.7,1190.0 1563.7,1192.7 1567.7,1195.5 1571.7,1198.2 1575.7,1201.0 1579.6,1203.7 1583.6,1206.5 1587.6,1209.2 1591.6,1211.9 1595.6,1214.7 1599.6,1217.4 1603.5,1220.1 1607.5,1222.8 1611.5,1225.6 1615.5,1228.3 1619.5,1231.0 1623.5,1233.7 1627.4,1236.4 1631.4,1239.1 1635.4,1241.8 1639.4,1244.5 1643.4,1247.2 1647.4,1249.9 1651.4,1252.6 1655.3,1255.3 1659.3,1257.9 1663.3,1260.6 1667.3,1263.3 1671.3,1266.0 1675.3,1268.7 1679.2,1271.3 1683.2,1274.0 1687.2,1276.7 1691.2,1279.3 1695.2,1282.0 1699.2,1284.7"/>
<polyline points="986.0,918.0 990.0,918.5 994.0,919.0 998.0,919.4 1001.9,919.9 1005.9,920.4 1009.9,920.9 1013.9,921.4 1017.9,922.0 1021.9,922.5 1025.8,923.0 1029.8,923.5 1033.8,924.1 1037.8,924.6 1041.8,925.2 1045.8,925.8 1049.7,926.4 1053.7,927.0 1057.7,927.6 1061.7,928.3 1065.7,929.0 1069.7,929.6 1073.7,930.3 1077.6,931.1 1081.6,931.9 1085.6,932.7 1089.6,933.6 1093.6,934.6 1097.6,935.5 1101.5,936.5 1105.5,937.6 1109.5,938.6 1113.5,939.7 1117.5,940.8 1121.5,941.9 1125.4,943.1 1129.4,944.3 1133.4,945.5 1137.4,946.7 1141.4,948.0 1145.4,949.2 1149.3,950.5 1153.3,951.8 1157.3,953.1 1161.3,954.4 1165.3,955.8 1169.3,957.2 1173.3,958.6 1177.2,960.0 1181.2,961.4 1185.2,962.9 1189.2,964.4 1193.2,966.0 1197.2,967.5 1201.1,969.2 1205.1,970.8 1209.1,972.5 1213.1,974.3 1217.1,976.1 1221.1,977.9 1225.0,979.8 1229.0,981.8 1233.0,983.8 1237.0,985.9 1241.0,988.1 1245.0,990.3 1249.0,992.6 1252.9,995.1 1256.9,997.5 1260.9,999.9 1264.9,1002.2 1268.9,1004.4 1272.9,1006.6 1276.8,1008.7 1280.8,1010.6 1284.8,1012.5 1288.8,1014.2 1292.8,1015.9 1296.8,1017.5 1300.7,1019.0 1304.7,1020.5 1308.7,1022.0 1312.7,1023.4 1316.7,1024.9 1320.7,1026.7 1324.7,1028.6 1328.6,1030.7 1332.6,1032.9 1336.6,1035.2 1340.6,1037.7 1344.6,1040.3 1348.6,1043.0 1352.5,1045.7 1356.5,1048.6 1360.5,1051.6 1364.5,1054.6 1368.5,1057.7 1372.5,1060.8 1376.4,1064.1 1380.4,1067.3 1384.4,1070.6 1388.4,1073.9 1392.4,1077.3 1396.4,1080.7 1400.3,1084.1 1404.3,1087.5 1408.3,1090.9 1412.3,1094.2 1416.3,1097.5 1420.3,1100.8 1424.3,1104.0 1428.2,1107.3 1432.2,1110.5 1436.2,1113.6 1440.2,1116.8 1444.2,1120.0 1448.2,1123.1 1452.1,1126.2 1456.1,1129.3 1460.1,1132.4 1464.1,1135.5 1468.1,1138.6 1472.1,1141.7 1476.0,1144.7 1480.0,1147.8 1484.0,1150.8 1488.0,1153.8 1492.0,1156.9 1496.0,1159.9 1500.0,1162.9 1503.9,1165.9 1507.9,1168.9 1511.9,1171.8 1515.9,1174.8 1519.9,1177.8 1523.9,1180.8 1527.8,1183.7 1531.8,1186.7 1535.8,1189.6 1539.8,1192.6 1543.8,1195.5 1547.8,1198.5 1551.7,1201.4 1555.7,1204.3 1559.7,1207.2 1563.7,1210.2 1567.7,1213.1 1571.7,1216.0 1575.7,1218.9 1579.6,1221.8 1583.6,1224.7 1587.6,1227.6 1591.6,1230.5 1595.6,1233.4 1599.6,1236.2 1603.5,1239.1 1607.5,1242.0 1611.5,1244.9 1615.5,1247.7 1619.5,1250.6 1623.5,1253.5 1627.4,1256.3 1631.4,1259.2 1635.4,1262.0 1639.4,1264.9 1643.4,1267.8 1647.4,1270.6 1651.4,1273.4 1655.3,1276.3 1659.3,1279.1 1663.3,1282.0 1667.3,1284.8 1671.3,1287.6 1675.3,1290.5 1679.2,1293.3 1683.2,1296.1 1687.2,1298.9 1691.2,1301.8 1695.2,1304.6 1699.2,1307.4"/>
</g>
<g fill="#000">
<rect x="980.6" y="912.6" width="10.8" height="10.8"/>
<rect x="1040.03" y="919.68" width="10.8" height="10.8"/>
<rect x="1099.46" y="924.1" width="10.8" height="10.8"/>
<rect x="1218.32" y="953.43" width="10.8" height="10.8"/>
<rect x="1277.75" y="982.17" width="10.8" height="10.8"/>
<rect x="1337.18" y="990.92" width="10.8" height="10.8"/>
<rect x="1456.04" y="1063.41" width="10.8" height="10.8"/>
<rect x="1693.76" y="1162.98" width="10.8" height="10.8"/>
<circle cx="986" cy="918" r="6"/>
<circle cx="1045.43" cy="925.08" r="6"/>
<circle cx="1104.86" cy="930.91" r="6"/>
<circle cx="1223.72" cy="963.83" r="6"/>
<circle cx="1283.15" cy="998.82" r="6"/>
<circle cx="1342.58" cy="1008.82" r="6"/>
<circle cx="1461.44" cy="1096.51" r="6"/>
<circle cx="1699.16" cy="1220.66" r="6"/>
<path d="M986,912.4L993,923.6L979,923.6Z"/>
<path d="M1045.43,919.48L1052.43,930.68L1038.43,930.68Z"/>
<path d="M1104.86,926.56L1111.86,937.76L1097.86,937.76Z"/>
<path d="M1223.72,961.56L1230.72,972.76L1216.72,972.76Z"/>
<path d="M1283.15,998.64L1290.15,1009.84L1276.15,1009.84Z"/>
<path d="M1342.58,1010.72L1349.58,1021.92L1335.58,1021.92Z"/>
<path d="M1461.44,1106.95L1468.44,1118.15L1454.44,1118.15Z"/>
<path d="M1699.16,1249.6L1706.16,1260.8L1692.16,1260.8Z"/>
<path d="M986,923.6L993,912.4L979,912.4Z"/>
<path d="M1045.43,930.68L1052.43,919.48L1038.43,919.48Z"/>
<path d="M1104.86,939.01L1111.86,927.81L1097.86,927.81Z"/>
<path d="M1223.72,976.51L1230.72,965.31L1216.72,965.31Z"/>
<path d="M1283.15,1015.25L1290.15,1004.05L1276.15,1004.05Z"/>
<path d="M1342.58,1029.42L1349.58,1018.22L1335.58,1018.22Z"/>
<path d="M1461.44,1133.36L1468.44,1122.16L1454.44,1122.16Z"/>
<path d="M1699.16,1292.12L1706.16,1280.92L1692.16,1280.92Z"/>
<path d="M986,910.9L993.5,918L986,925.1L978.5,918Z"/>
<path d="M1045.43,917.98L1052.93,925.08L1045.43,932.18L1037.93,925.08Z"/>
<path d="M1104.86,927.98L1112.36,935.08L1104.86,942.18L1097.36,935.08Z"/>
<path d="M1223.72,967.97L1231.22,975.07L1223.72,982.17L1216.22,975.07Z"/>
<path d="M1283.15,1008.38L1290.65,1015.48L1283.15,1022.58L1275.65,1015.48Z"/>
<path d="M1342.58,1022.97L1350.08,1030.07L1342.58,1037.17L1335.08,1030.07Z"/>
<path d="M1461.44,1132.28L1468.94,1139.38L1461.44,1146.48L1453.94,1139.38Z"/>
<path d="M1699.16,1300.3L1706.66,1307.4L1699.16,1314.5L1691.66,1307.4Z"/>
</g></g>
<rect x="1050.9" y="1311" width="156.1" height="174.6" fill="#fff" stroke="#8c8c8c" stroke-width="1.6"/>
<path d="M1055.4,1329.4H1124.8" stroke="#777777" stroke-width="1.9"/>
<g fill="#000"><rect x="1084.3" y="1324" width="10.8" height="10.8"/></g>
<text transform="translate(1133.2,1339.4) scale(1.15,1)" font-family='"Liberation Serif", "Times New Roman", serif' font-size="26.5" fill="#262626" stroke="#262626" stroke-width="0.5" text-anchor="start">N=10</text>
<path d="M1055.4,1363.8H1124.8" stroke="#777777" stroke-width="1.9"/>
<g fill="#000"><circle cx="1089.7" cy="1363.8" r="6"/></g>
<text transform="translate(1133.2,1373.8) scale(1.15,1)" font-family='"Liberation Serif", "Times New Roman", serif' font-size="26.5" fill="#262626" stroke="#262626" stroke-width="0.5" text-anchor="start">N=20</text>
<path d="M1055.4,1398.2H1124.8" stroke="#777777" stroke-width="1.9"/>
<g fill="#000"><path d="M1089.7,1390.73L1096.7,1401.93L1082.7,1401.93Z"/></g>
<text transform="translate(1133.2,1408.2) scale(1.15,1)" font-family='"Liberation Serif", "Times New Roman", serif' font-size="26.5" fill="#262626" stroke="#262626" stroke-width="0.5" text-anchor="start">N=30</text>
<path d="M1055.4,1432.6H1124.8" stroke="#777777" stroke-width="1.9"/>
<g fill="#000"><path d="M1089.7,1440.07L1096.7,1428.87L1082.7,1428.87Z"/></g>
<text transform="translate(1133.2,1442.6) scale(1.15,1)" font-family='"Liberation Serif", "Times New Roman", serif' font-size="26.5" fill="#262626" stroke="#262626" stroke-width="0.5" text-anchor="start">N=40</text>
<path d="M1055.4,1467H1124.8" stroke="#777777" stroke-width="1.9"/>
<g fill="#000"><path d="M1089.7,1459.9L1097.2,1467L1089.7,1474.1L1082.2,1467Z"/></g>
<text transform="translate(1133.2,1477) scale(1.15,1)" font-family='"Liberation Serif", "Times New Roman", serif' font-size="26.5" fill="#262626" stroke="#262626" stroke-width="0.5" text-anchor="start">N=50</text>
<text transform="translate(1354.9,1521.3) scale(1.08,1)" font-family='"Liberation Sans", Arial, sans-serif' font-size="38.5" fill="#111" text-anchor="middle">SN-1</text>
<clipPath id="cp5"><rect x="136.6" y="1637.5" width="742.9" height="583.8"/></clipPath>
<path d="M136.6,1637.5H879.5M136.6,1637.5V2221.3M196,1637.5v5.5M255.4,1637.5v10.2M314.8,1637.5v5.5M374.2,1637.5v10.2M433.6,1637.5v5.5M493,1637.5v10.2M552.4,1637.5v5.5M611.8,1637.5v10.2M671.2,1637.5v5.5M730.6,1637.5v10.2M790,1637.5v5.5M849.4,1637.5v10.2M136.6,1658.35h5M136.6,1679.2h11M136.6,1700.05h5M136.6,1720.9h11M136.6,1741.75h5M136.6,1762.6h11M136.6,1783.45h5M136.6,1804.3h11M136.6,1825.15h5M136.6,1846h11M136.6,1866.85h5M136.6,1887.7h11M136.6,1908.55h5M136.6,1929.4h11M136.6,1950.25h5M136.6,1971.1h11M136.6,1991.95h5M136.6,2012.8h11M136.6,2033.65h5M136.6,2054.5h11M136.6,2075.35h5M136.6,2096.2h11M136.6,2117.05h5M136.6,2137.9h11M136.6,2158.75h5M136.6,2179.6h11M136.6,2200.45h5M136.6,2221.3h11" stroke="#6b6b6b" stroke-width="2" fill="none"/>
<text transform="translate(136.6,1619.5) scale(1.17,1)" font-family='"Liberation Serif", "Times New Roman", serif' font-size="20" fill="#262626" stroke="#262626" stroke-width="0.5" text-anchor="middle">0</text>
<text transform="translate(255.4,1619.5) scale(1.17,1)" font-family='"Liberation Serif", "Times New Roman", serif' font-size="20" fill="#262626" stroke="#262626" stroke-width="0.5" text-anchor="middle">20</text>
<text transform="translate(374.2,1619.5) scale(1.17,1)" font-family='"Liberation Serif", "Times New Roman", serif' font-size="20" fill="#262626" stroke="#262626" stroke-width="0.5" text-anchor="middle">40</text>
<text transform="translate(493,1619.5) scale(1.17,1)" font-family='"Liberation Serif", "Times New Roman", serif' font-size="20" fill="#262626" stroke="#262626" stroke-width="0.5" text-anchor="middle">60</text>
<text transform="translate(611.8,1619.5) scale(1.17,1)" font-family='"Liberation Serif", "Times New Roman", serif' font-size="20" fill="#262626" stroke="#262626" stroke-width="0.5" text-anchor="middle">80</text>
<text transform="translate(730.6,1619.5) scale(1.17,1)" font-family='"Liberation Serif", "Times New Roman", serif' font-size="20" fill="#262626" stroke="#262626" stroke-width="0.5" text-anchor="middle">100</text>
<text transform="translate(849.4,1619.5) scale(1.17,1)" font-family='"Liberation Serif", "Times New Roman", serif' font-size="20" fill="#262626" stroke="#262626" stroke-width="0.5" text-anchor="middle">120</text>
<text transform="translate(124,1644.3) scale(1.17,1)" font-family='"Liberation Serif", "Times New Roman", serif' font-size="20" fill="#262626" stroke="#262626" stroke-width="0.5" text-anchor="end">0.0</text>
<text transform="translate(124,1686) scale(1.17,1)" font-family='"Liberation Serif", "Times New Roman", serif' font-size="20" fill="#262626" stroke="#262626" stroke-width="0.5" text-anchor="end">0.1</text>
<text transform="translate(124,1727.7) scale(1.17,1)" font-family='"Liberation Serif", "Times New Roman", serif' font-size="20" fill="#262626" stroke="#262626" stroke-width="0.5" text-anchor="end">0.2</text>
<text transform="translate(124,1769.4) scale(1.17,1)" font-family='"Liberation Serif", "Times New Roman", serif' font-size="20" fill="#262626" stroke="#262626" stroke-width="0.5" text-anchor="end">0.3</text>
<text transform="translate(124,1811.1) scale(1.17,1)" font-family='"Liberation Serif", "Times New Roman", serif' font-size="20" fill="#262626" stroke="#262626" stroke-width="0.5" text-anchor="end">0.4</text>
<text transform="translate(124,1852.8) scale(1.17,1)" font-family='"Liberation Serif", "Times New Roman", serif' font-size="20" fill="#262626" stroke="#262626" stroke-width="0.5" text-anchor="end">0.5</text>
<text transform="translate(124,1894.5) scale(1.17,1)" font-family='"Liberation Serif", "Times New Roman", serif' font-size="20" fill="#262626" stroke="#262626" stroke-width="0.5" text-anchor="end">0.6</text>
<text transform="translate(124,1936.2) scale(1.17,1)" font-family='"Liberation Serif", "Times New Roman", serif' font-size="20" fill="#262626" stroke="#262626" stroke-width="0.5" text-anchor="end">0.7</text>
<text transform="translate(124,1977.9) scale(1.17,1)" font-family='"Liberation Serif", "Times New Roman", serif' font-size="20" fill="#262626" stroke="#262626" stroke-width="0.5" text-anchor="end">0.8</text>
<text transform="translate(124,2019.6) scale(1.17,1)" font-family='"Liberation Serif", "Times New Roman", serif' font-size="20" fill="#262626" stroke="#262626" stroke-width="0.5" text-anchor="end">0.9</text>
<text transform="translate(124,2061.3) scale(1.17,1)" font-family='"Liberation Serif", "Times New Roman", serif' font-size="20" fill="#262626" stroke="#262626" stroke-width="0.5" text-anchor="end">1.0</text>
<text transform="translate(124,2103) scale(1.17,1)" font-family='"Liberation Serif", "Times New Roman", serif' font-size="20" fill="#262626" stroke="#262626" stroke-width="0.5" text-anchor="end">1.1</text>
<text transform="translate(124,2144.7) scale(1.17,1)" font-family='"Liberation Serif", "Times New Roman", serif' font-size="20" fill="#262626" stroke="#262626" stroke-width="0.5" text-anchor="end">1.2</text>
<text transform="translate(124,2186.4) scale(1.17,1)" font-family='"Liberation Serif", "Times New Roman", serif' font-size="20" fill="#262626" stroke="#262626" stroke-width="0.5" text-anchor="end">1.3</text>
<text transform="translate(124,2228.1) scale(1.17,1)" font-family='"Liberation Serif", "Times New Roman", serif' font-size="20" fill="#262626" stroke="#262626" stroke-width="0.5" text-anchor="end">1.4</text>
<text transform="translate(507.55,1586.7) scale(1.17,1)" font-family='"Liberation Serif", "Times New Roman", serif' font-size="27" fill="#262626" stroke="#262626" stroke-width="0.5" text-anchor="middle">σd / kPa</text>
<text transform="translate(40.7,1928.3) rotate(-90) scale(0.914,1)" font-family='"Liberation Serif", "Times New Roman", serif' font-size="30.8" fill="#262626" stroke="#262626" stroke-width="0.5" text-anchor="middle">εp / %</text>
<g clip-path="url(#cp5)">
<g stroke="#000" stroke-opacity="0.54" stroke-width="1.9" fill="none" stroke-linejoin="round">
<polyline points="136.6,1637.5 140.6,1638.1 144.6,1638.7 148.5,1639.2 152.5,1639.8 156.5,1640.3 160.5,1640.9 164.5,1641.4 168.5,1642.0 172.4,1642.5 176.4,1643.0 180.4,1643.5 184.4,1644.0 188.4,1644.5 192.3,1645.0 196.3,1645.5 200.3,1645.9 204.3,1646.4 208.3,1646.8 212.3,1647.2 216.2,1647.7 220.2,1648.1 224.2,1648.5 228.2,1648.9 232.2,1649.3 236.2,1649.8 240.1,1650.3 244.1,1650.9 248.1,1651.5 252.1,1652.2 256.1,1652.9 260.0,1653.6 264.0,1654.3 268.0,1655.1 272.0,1655.9 276.0,1656.7 280.0,1657.6 283.9,1658.5 287.9,1659.3 291.9,1660.3 295.9,1661.2 299.9,1662.1 303.8,1663.1 307.8,1664.1 311.8,1665.0 315.8,1666.0 319.8,1667.0 323.8,1668.0 327.7,1669.0 331.7,1670.0 335.7,1671.0 339.7,1672.0 343.7,1673.0 347.7,1674.0 351.6,1675.0 355.6,1676.0 359.6,1676.9 363.6,1677.9 367.6,1678.8 371.5,1679.8 375.5,1680.7 379.5,1681.6 383.5,1682.5 387.5,1683.4 391.5,1684.3 395.4,1685.2 399.4,1686.1 403.4,1686.9 407.4,1687.8 411.4,1688.7 415.3,1689.6 419.3,1690.7 423.3,1691.7 427.3,1692.9 431.3,1694.1 435.3,1695.3 439.2,1696.7 443.2,1698.1 447.2,1699.5 451.2,1701.0 455.2,1702.6 459.2,1704.2 463.1,1705.8 467.1,1707.5 471.1,1709.1 475.1,1710.7 479.1,1712.2 483.0,1713.7 487.0,1715.2 491.0,1716.7 495.0,1718.1 499.0,1719.5 503.0,1720.9 506.9,1722.3 510.9,1723.6 514.9,1724.9 518.9,1726.2 522.9,1727.5 526.8,1728.8 530.8,1730.1 534.8,1731.4 538.8,1732.6 542.8,1733.9 546.8,1735.2 550.7,1736.4 554.7,1737.7 558.7,1739.0 562.7,1740.3 566.7,1741.6 570.7,1742.9 574.6,1744.3 578.6,1745.6 582.6,1747.0 586.6,1748.4 590.6,1749.9 594.5,1751.3 598.5,1752.8 602.5,1754.3 606.5,1755.8 610.5,1757.4 614.5,1758.9 618.4,1760.5 622.4,1762.1 626.4,1763.7 630.4,1765.4 634.4,1767.0 638.3,1768.7 642.3,1770.4 646.3,1772.1 650.3,1773.8 654.3,1775.6 658.3,1777.3 662.2,1779.0 666.2,1780.8 670.2,1782.5 674.2,1784.3 678.2,1785.9 682.2,1787.6 686.1,1789.2 690.1,1790.8 694.1,1792.3 698.1,1793.8 702.1,1795.3 706.0,1796.7 710.0,1798.2 714.0,1799.5 718.0,1800.9 722.0,1802.2 726.0,1803.5 729.9,1804.8 733.9,1806.0 737.9,1807.3 741.9,1808.5 745.9,1809.7 749.8,1810.8 753.8,1812.0 757.8,1813.1 761.8,1814.2 765.8,1815.3 769.8,1816.3 773.7,1817.4 777.7,1818.4 781.7,1819.4 785.7,1820.4 789.7,1821.4 793.7,1822.3 797.6,1823.3 801.6,1824.2 805.6,1825.1 809.6,1826.0 813.6,1826.9 817.5,1827.8 821.5,1828.7 825.5,1829.5 829.5,1830.3 833.5,1831.2 837.5,1832.0 841.4,1832.8 845.4,1833.5 849.4,1834.3"/>
<polyline points="136.6,1637.5 140.6,1638.1 144.6,1638.7 148.5,1639.2 152.5,1639.8 156.5,1640.4 160.5,1640.9 164.5,1641.5 168.5,1642.0 172.4,1642.6 176.4,1643.1 180.4,1643.6 184.4,1644.2 188.4,1644.7 192.3,1645.2 196.3,1645.7 200.3,1646.2 204.3,1646.7 208.3,1647.2 212.3,1647.7 216.2,1648.2 220.2,1648.7 224.2,1649.1 228.2,1649.6 232.2,1650.1 236.2,1650.7 240.1,1651.3 244.1,1652.0 248.1,1652.7 252.1,1653.5 256.1,1654.3 260.0,1655.1 264.0,1655.9 268.0,1656.8 272.0,1657.8 276.0,1658.7 280.0,1659.7 283.9,1660.7 287.9,1661.7 291.9,1662.7 295.9,1663.7 299.9,1664.8 303.8,1665.9 307.8,1667.0 311.8,1668.1 315.8,1669.2 319.8,1670.3 323.8,1671.4 327.7,1672.6 331.7,1673.7 335.7,1674.8 339.7,1675.9 343.7,1677.0 347.7,1678.1 351.6,1679.2 355.6,1680.3 359.6,1681.4 363.6,1682.5 367.6,1683.5 371.5,1684.6 375.5,1685.6 379.5,1686.7 383.5,1687.7 387.5,1688.7 391.5,1689.7 395.4,1690.6 399.4,1691.6 403.4,1692.6 407.4,1693.6 411.4,1694.6 415.3,1695.8 419.3,1697.0 423.3,1698.3 427.3,1699.7 431.3,1701.2 435.3,1702.8 439.2,1704.4 443.2,1706.2 447.2,1708.1 451.2,1710.0 455.2,1712.0 459.2,1714.1 463.1,1716.2 467.1,1718.4 471.1,1720.5 475.1,1722.5 479.1,1724.5 483.0,1726.4 487.0,1728.4 491.0,1730.2 495.0,1732.1 499.0,1733.9 503.0,1735.6 506.9,1737.3 510.9,1739.0 514.9,1740.7 518.9,1742.3 522.9,1744.0 526.8,1745.6 530.8,1747.2 534.8,1748.8 538.8,1750.3 542.8,1751.9 546.8,1753.4 550.7,1755.0 554.7,1756.5 558.7,1758.1 562.7,1759.7 566.7,1761.3 570.7,1762.9 574.6,1764.5 578.6,1766.2 582.6,1767.8 586.6,1769.5 590.6,1771.2 594.5,1772.9 598.5,1774.7 602.5,1776.4 606.5,1778.2 610.5,1780.0 614.5,1781.8 618.4,1783.7 622.4,1785.5 626.4,1787.4 630.4,1789.3 634.4,1791.2 638.3,1793.2 642.3,1795.1 646.3,1797.1 650.3,1799.0 654.3,1801.0 658.3,1803.0 662.2,1805.0 666.2,1807.0 670.2,1809.0 674.2,1810.9 678.2,1812.9 682.2,1814.8 686.1,1816.7 690.1,1818.5 694.1,1820.4 698.1,1822.1 702.1,1823.9 706.0,1825.6 710.0,1827.3 714.0,1829.0 718.0,1830.7 722.0,1832.3 726.0,1833.9 729.9,1835.5 733.9,1837.0 737.9,1838.6 741.9,1840.1 745.9,1841.6 749.8,1843.1 753.8,1844.5 757.8,1846.0 761.8,1847.4 765.8,1848.8 769.8,1850.2 773.7,1851.6 777.7,1853.0 781.7,1854.3 785.7,1855.6 789.7,1856.9 793.7,1858.3 797.6,1859.5 801.6,1860.8 805.6,1862.1 809.6,1863.3 813.6,1864.6 817.5,1865.8 821.5,1867.0 825.5,1868.2 829.5,1869.4 833.5,1870.6 837.5,1871.7 841.4,1872.9 845.4,1874.1 849.4,1875.2"/>
<polyline points="136.6,1639.4 140.6,1640.0 144.6,1640.5 148.5,1641.1 152.5,1641.7 156.5,1642.3 160.5,1642.8 164.5,1643.4 168.5,1644.0 172.4,1644.5 176.4,1645.1 180.4,1645.6 184.4,1646.2 188.4,1646.7 192.3,1647.3 196.3,1647.8 200.3,1648.4 204.3,1648.9 208.3,1649.5 212.3,1650.0 216.2,1650.5 220.2,1651.1 224.2,1651.6 228.2,1652.2 232.2,1652.8 236.2,1653.4 240.1,1654.2 244.1,1654.9 248.1,1655.7 252.1,1656.6 256.1,1657.4 260.0,1658.4 264.0,1659.3 268.0,1660.3 272.0,1661.3 276.0,1662.3 280.0,1663.4 283.9,1664.5 287.9,1665.6 291.9,1666.7 295.9,1667.9 299.9,1669.0 303.8,1670.2 307.8,1671.4 311.8,1672.6 315.8,1673.8 319.8,1675.0 323.8,1676.2 327.7,1677.4 331.7,1678.7 335.7,1679.9 339.7,1681.1 343.7,1682.3 347.7,1683.5 351.6,1684.7 355.6,1685.9 359.6,1687.1 363.6,1688.2 367.6,1689.4 371.5,1690.5 375.5,1691.7 379.5,1692.8 383.5,1693.9 387.5,1695.0 391.5,1696.1 395.4,1697.1 399.4,1698.2 403.4,1699.3 407.4,1700.4 411.4,1701.5 415.3,1702.8 419.3,1704.2 423.3,1705.6 427.3,1707.2 431.3,1708.8 435.3,1710.6 439.2,1712.5 443.2,1714.5 447.2,1716.6 451.2,1718.8 455.2,1721.0 459.2,1723.4 463.1,1725.7 467.1,1728.1 471.1,1730.4 475.1,1732.7 479.1,1734.8 483.0,1737.0 487.0,1739.0 491.0,1741.0 495.0,1742.9 499.0,1744.8 503.0,1746.7 506.9,1748.4 510.9,1750.2 514.9,1751.9 518.9,1753.6 522.9,1755.2 526.8,1756.9 530.8,1758.5 534.8,1760.1 538.8,1761.7 542.8,1763.2 546.8,1764.8 550.7,1766.3 554.7,1767.9 558.7,1769.5 562.7,1771.1 566.7,1772.7 570.7,1774.3 574.6,1776.0 578.6,1777.7 582.6,1779.5 586.6,1781.2 590.6,1783.0 594.5,1784.8 598.5,1786.7 602.5,1788.6 606.5,1790.5 610.5,1792.4 614.5,1794.4 618.4,1796.4 622.4,1798.4 626.4,1800.5 630.4,1802.6 634.4,1804.7 638.3,1806.9 642.3,1809.1 646.3,1811.2 650.3,1813.4 654.3,1815.7 658.3,1817.9 662.2,1820.1 666.2,1822.4 670.2,1824.7 674.2,1826.9 678.2,1829.1 682.2,1831.3 686.1,1833.4 690.1,1835.4 694.1,1837.4 698.1,1839.4 702.1,1841.3 706.0,1843.2 710.0,1845.1 714.0,1846.9 718.0,1848.7 722.0,1850.4 726.0,1852.2 729.9,1853.9 733.9,1855.5 737.9,1857.1 741.9,1858.7 745.9,1860.3 749.8,1861.9 753.8,1863.4 757.8,1864.9 761.8,1866.4 765.8,1867.8 769.8,1869.2 773.7,1870.6 777.7,1872.0 781.7,1873.4 785.7,1874.7 789.7,1876.0 793.7,1877.3 797.6,1878.6 801.6,1879.9 805.6,1881.1 809.6,1882.4 813.6,1883.6 817.5,1884.8 821.5,1885.9 825.5,1887.1 829.5,1888.2 833.5,1889.4 837.5,1890.5 841.4,1891.6 845.4,1892.7 849.4,1893.7"/>
<polyline points="136.6,1635.6 140.6,1636.2 144.6,1636.8 148.5,1637.4 152.5,1638.0 156.5,1638.5 160.5,1639.1 164.5,1639.7 168.5,1640.3 172.4,1640.9 176.4,1641.4 180.4,1642.0 184.4,1642.6 188.4,1643.2 192.3,1643.8 196.3,1644.3 200.3,1644.9 204.3,1645.5 208.3,1646.1 212.3,1646.7 216.2,1647.3 220.2,1647.9 224.2,1648.5 228.2,1649.2 232.2,1649.9 236.2,1650.6 240.1,1651.4 244.1,1652.3 248.1,1653.2 252.1,1654.1 256.1,1655.1 260.0,1656.1 264.0,1657.1 268.0,1658.2 272.0,1659.3 276.0,1660.5 280.0,1661.6 283.9,1662.8 287.9,1664.0 291.9,1665.3 295.9,1666.5 299.9,1667.8 303.8,1669.1 307.8,1670.4 311.8,1671.7 315.8,1673.0 319.8,1674.3 323.8,1675.6 327.7,1676.9 331.7,1678.3 335.7,1679.6 339.7,1680.9 343.7,1682.2 347.7,1683.5 351.6,1684.7 355.6,1686.0 359.6,1687.3 363.6,1688.5 367.6,1689.7 371.5,1690.9 375.5,1692.1 379.5,1693.3 383.5,1694.4 387.5,1695.5 391.5,1696.7 395.4,1697.8 399.4,1698.8 403.4,1699.9 407.4,1701.0 411.4,1702.2 415.3,1703.5 419.3,1704.8 423.3,1706.3 427.3,1707.9 431.3,1709.6 435.3,1711.4 439.2,1713.4 443.2,1715.5 447.2,1717.6 451.2,1719.9 455.2,1722.3 459.2,1724.7 463.1,1727.2 467.1,1729.7 471.1,1732.1 475.1,1734.5 479.1,1736.8 483.0,1739.0 487.0,1741.1 491.0,1743.2 495.0,1745.2 499.0,1747.2 503.0,1749.1 506.9,1750.9 510.9,1752.8 514.9,1754.5 518.9,1756.3 522.9,1758.0 526.8,1759.7 530.8,1761.4 534.8,1763.0 538.8,1764.7 542.8,1766.3 546.8,1767.9 550.7,1769.6 554.7,1771.2 558.7,1772.8 562.7,1774.5 566.7,1776.2 570.7,1778.0 574.6,1779.8 578.6,1781.6 582.6,1783.4 586.6,1785.3 590.6,1787.3 594.5,1789.2 598.5,1791.2 602.5,1793.3 606.5,1795.4 610.5,1797.5 614.5,1799.7 618.4,1801.9 622.4,1804.1 626.4,1806.4 630.4,1808.7 634.4,1811.1 638.3,1813.4 642.3,1815.9 646.3,1818.3 650.3,1820.8 654.3,1823.2 658.3,1825.7 662.2,1828.3 666.2,1830.8 670.2,1833.3 674.2,1835.9 678.2,1838.4 682.2,1840.8 686.1,1843.2 690.1,1845.5 694.1,1847.8 698.1,1850.0 702.1,1852.2 706.0,1854.4 710.0,1856.5 714.0,1858.6 718.0,1860.6 722.0,1862.6 726.0,1864.6 729.9,1866.5 733.9,1868.4 737.9,1870.3 741.9,1872.1 745.9,1873.9 749.8,1875.7 753.8,1877.5 757.8,1879.2 761.8,1880.9 765.8,1882.6 769.8,1884.2 773.7,1885.9 777.7,1887.5 781.7,1889.1 785.7,1890.6 789.7,1892.2 793.7,1893.7 797.6,1895.2 801.6,1896.6 805.6,1898.1 809.6,1899.5 813.6,1901.0 817.5,1902.4 821.5,1903.7 825.5,1905.1 829.5,1906.5 833.5,1907.8 837.5,1909.1 841.4,1910.4 845.4,1911.7 849.4,1912.9"/>
<polyline points="136.6,1637.5 140.6,1638.1 144.6,1638.7 148.5,1639.3 152.5,1639.9 156.5,1640.4 160.5,1641.0 164.5,1641.6 168.5,1642.2 172.4,1642.8 176.4,1643.4 180.4,1644.0 184.4,1644.6 188.4,1645.2 192.3,1645.8 196.3,1646.5 200.3,1647.1 204.3,1647.7 208.3,1648.4 212.3,1649.0 216.2,1649.7 220.2,1650.4 224.2,1651.1 228.2,1651.8 232.2,1652.6 236.2,1653.4 240.1,1654.3 244.1,1655.3 248.1,1656.3 252.1,1657.4 256.1,1658.5 260.0,1659.7 264.0,1660.8 268.0,1662.1 272.0,1663.3 276.0,1664.6 280.0,1665.9 283.9,1667.3 287.9,1668.6 291.9,1670.0 295.9,1671.4 299.9,1672.8 303.8,1674.2 307.8,1675.7 311.8,1677.2 315.8,1678.6 319.8,1680.1 323.8,1681.6 327.7,1683.0 331.7,1684.5 335.7,1685.9 339.7,1687.4 343.7,1688.8 347.7,1690.2 351.6,1691.6 355.6,1693.0 359.6,1694.4 363.6,1695.7 367.6,1697.0 371.5,1698.3 375.5,1699.6 379.5,1700.8 383.5,1702.0 387.5,1703.2 391.5,1704.3 395.4,1705.4 399.4,1706.5 403.4,1707.6 407.4,1708.7 411.4,1709.8 415.3,1711.1 419.3,1712.5 423.3,1713.9 427.3,1715.6 431.3,1717.3 435.3,1719.2 439.2,1721.2 443.2,1723.3 447.2,1725.6 451.2,1727.9 455.2,1730.4 459.2,1732.9 463.1,1735.6 467.1,1738.2 471.1,1740.7 475.1,1743.2 479.1,1745.6 483.0,1747.9 487.0,1750.1 491.0,1752.3 495.0,1754.4 499.0,1756.5 503.0,1758.5 506.9,1760.4 510.9,1762.3 514.9,1764.2 518.9,1766.0 522.9,1767.8 526.8,1769.6 530.8,1771.4 534.8,1773.1 538.8,1774.8 542.8,1776.5 546.8,1778.2 550.7,1779.9 554.7,1781.6 558.7,1783.3 562.7,1785.1 566.7,1786.9 570.7,1788.7 574.6,1790.5 578.6,1792.4 582.6,1794.4 586.6,1796.3 590.6,1798.3 594.5,1800.4 598.5,1802.4 602.5,1804.5 606.5,1806.7 610.5,1808.9 614.5,1811.1 618.4,1813.4 622.4,1815.7 626.4,1818.0 630.4,1820.4 634.4,1822.8 638.3,1825.2 642.3,1827.7 646.3,1830.2 650.3,1832.7 654.3,1835.3 658.3,1837.8 662.2,1840.4 666.2,1843.0 670.2,1845.6 674.2,1848.2 678.2,1850.8 682.2,1853.3 686.1,1855.8 690.1,1858.2 694.1,1860.5 698.1,1862.9 702.1,1865.2 706.0,1867.4 710.0,1869.6 714.0,1871.8 718.0,1873.9 722.0,1876.0 726.0,1878.1 729.9,1880.2 733.9,1882.2 737.9,1884.2 741.9,1886.1 745.9,1888.1 749.8,1890.0 753.8,1891.8 757.8,1893.7 761.8,1895.5 765.8,1897.3 769.8,1899.1 773.7,1900.9 777.7,1902.6 781.7,1904.3 785.7,1906.0 789.7,1907.7 793.7,1909.3 797.6,1911.0 801.6,1912.6 805.6,1914.2 809.6,1915.8 813.6,1917.3 817.5,1918.9 821.5,1920.4 825.5,1921.9 829.5,1923.4 833.5,1924.9 837.5,1926.3 841.4,1927.8 845.4,1929.2 849.4,1930.7"/>
</g>
<g fill="#000">
<rect x="131.2" y="1632.1" width="10.8" height="10.8"/>
<rect x="190.6" y="1640.86" width="10.8" height="10.8"/>
<rect x="250" y="1644.61" width="10.8" height="10.8"/>
<rect x="368.8" y="1675.88" width="10.8" height="10.8"/>
<rect x="428.2" y="1687.14" width="10.8" height="10.8"/>
<rect x="487.6" y="1713.83" width="10.8" height="10.8"/>
<rect x="606.4" y="1748.86" width="10.8" height="10.8"/>
<rect x="725.2" y="1805.99" width="10.8" height="10.8"/>
<rect x="844" y="1828.92" width="10.8" height="10.8"/>
<circle cx="136.6" cy="1637.5" r="6"/>
<circle cx="196" cy="1646.26" r="6"/>
<circle cx="255.4" cy="1651.26" r="6"/>
<circle cx="374.2" cy="1686.29" r="6"/>
<circle cx="433.6" cy="1698.8" r="6"/>
<circle cx="493" cy="1733.83" r="6"/>
<circle cx="611.8" cy="1777.19" r="6"/>
<circle cx="730.6" cy="1841.41" r="6"/>
<circle cx="849.4" cy="1875.19" r="6"/>
<path d="M136.6,1631.9L143.6,1643.1L129.6,1643.1Z"/>
<path d="M196,1640.66L203,1651.86L189,1651.86Z"/>
<path d="M255.4,1646.91L262.4,1658.11L248.4,1658.11Z"/>
<path d="M374.2,1684.86L381.2,1696.06L367.2,1696.06Z"/>
<path d="M433.6,1698.62L440.6,1709.82L426.6,1709.82Z"/>
<path d="M493,1738.23L500,1749.43L486,1749.43Z"/>
<path d="M611.8,1780.35L618.8,1791.55L604.8,1791.55Z"/>
<path d="M730.6,1854.58L737.6,1865.78L723.6,1865.78Z"/>
<path d="M849.4,1886.27L856.4,1897.47L842.4,1897.47Z"/>
<path d="M136.6,1643.1L143.6,1631.9L129.6,1631.9Z"/>
<path d="M196,1651.86L203,1640.66L189,1640.66Z"/>
<path d="M255.4,1659.36L262.4,1648.16L248.4,1648.16Z"/>
<path d="M374.2,1700.65L381.2,1689.45L367.2,1689.45Z"/>
<path d="M433.6,1713.99L440.6,1702.79L426.6,1702.79Z"/>
<path d="M493,1755.69L500,1744.49L486,1744.49Z"/>
<path d="M611.8,1799.06L618.8,1787.86L604.8,1787.86Z"/>
<path d="M730.6,1882.88L737.6,1871.68L723.6,1871.68Z"/>
<path d="M849.4,1920.41L856.4,1909.21L842.4,1909.21Z"/>
<path d="M136.6,1630.4L144.1,1637.5L136.6,1644.6L129.1,1637.5Z"/>
<path d="M196,1639.16L203.5,1646.26L196,1653.36L188.5,1646.26Z"/>
<path d="M255.4,1647.91L262.9,1655.01L255.4,1662.11L247.9,1655.01Z"/>
<path d="M374.2,1694.2L381.7,1701.3L374.2,1708.4L366.7,1701.3Z"/>
<path d="M433.6,1706.71L441.1,1713.81L433.6,1720.91L426.1,1713.81Z"/>
<path d="M493,1750.5L500.5,1757.6L493,1764.7L485.5,1757.6Z"/>
<path d="M611.8,1795.95L619.3,1803.05L611.8,1810.15L604.3,1803.05Z"/>
<path d="M730.6,1881.43L738.1,1888.53L730.6,1895.63L723.1,1888.53Z"/>
<path d="M849.4,1923.55L856.9,1930.65L849.4,1937.75L841.9,1930.65Z"/>
</g></g>
<rect x="201.8" y="2031" width="156.2" height="174.6" fill="#fff" stroke="#8c8c8c" stroke-width="1.6"/>
<path d="M206.3,2049.4H275.7" stroke="#777777" stroke-width="1.9"/>
<g fill="#000"><rect x="235.2" y="2044" width="10.8" height="10.8"/></g>
<text transform="translate(284.1,2059.4) scale(1.15,1)" font-family='"Liberation Serif", "Times New Roman", serif' font-size="26.5" fill="#262626" stroke="#262626" stroke-width="0.5" text-anchor="start">N=10</text>
<path d="M206.3,2083.8H275.7" stroke="#777777" stroke-width="1.9"/>
<g fill="#000"><circle cx="240.6" cy="2083.8" r="6"/></g>
<text transform="translate(284.1,2093.8) scale(1.15,1)" font-family='"Liberation Serif", "Times New Roman", serif' font-size="26.5" fill="#262626" stroke="#262626" stroke-width="0.5" text-anchor="start">N=20</text>
<path d="M206.3,2118.2H275.7" stroke="#777777" stroke-width="1.9"/>
<g fill="#000"><path d="M240.6,2110.73L247.6,2121.93L233.6,2121.93Z"/></g>
<text transform="translate(284.1,2128.2) scale(1.15,1)" font-family='"Liberation Serif", "Times New Roman", serif' font-size="26.5" fill="#262626" stroke="#262626" stroke-width="0.5" text-anchor="start">N=30</text>
<path d="M206.3,2152.6H275.7" stroke="#777777" stroke-width="1.9"/>
<g fill="#000"><path d="M240.6,2160.07L247.6,2148.87L233.6,2148.87Z"/></g>
<text transform="translate(284.1,2162.6) scale(1.15,1)" font-family='"Liberation Serif", "Times New Roman", serif' font-size="26.5" fill="#262626" stroke="#262626" stroke-width="0.5" text-anchor="start">N=40</text>
<path d="M206.3,2187H275.7" stroke="#777777" stroke-width="1.9"/>
<g fill="#000"><path d="M240.6,2179.9L248.1,2187L240.6,2194.1L233.1,2187Z"/></g>
<text transform="translate(284.1,2197) scale(1.15,1)" font-family='"Liberation Serif", "Times New Roman", serif' font-size="26.5" fill="#262626" stroke="#262626" stroke-width="0.5" text-anchor="start">N=50</text>
<text transform="translate(471.2,2277.6) scale(1.065,1)" font-family='"Liberation Sans", Arial, sans-serif' font-size="38.4" fill="#111" text-anchor="middle">FH-1</text>
<clipPath id="cp6"><rect x="986" y="1637.5" width="743" height="584.08"/></clipPath>
<path d="M986,1637.5H1729M986,1637.5V2221.58M1045.43,1637.5v5.5M1104.86,1637.5v10.2M1164.29,1637.5v5.5M1223.72,1637.5v10.2M1283.15,1637.5v5.5M1342.58,1637.5v10.2M1402.01,1637.5v5.5M1461.44,1637.5v10.2M1520.87,1637.5v5.5M1580.3,1637.5v10.2M1639.73,1637.5v5.5M1699.16,1637.5v10.2M986,1679.22h5.5M986,1720.94h11M986,1762.66h5.5M986,1804.38h11M986,1846.1h5.5M986,1887.82h11M986,1929.54h5.5M986,1971.26h11M986,2012.98h5.5M986,2054.7h11M986,2096.42h5.5M986,2138.14h11M986,2179.86h5.5M986,2221.58h11" stroke="#6b6b6b" stroke-width="2" fill="none"/>
<text transform="translate(986,1619.5) scale(1.17,1)" font-family='"Liberation Serif", "Times New Roman", serif' font-size="20" fill="#262626" stroke="#262626" stroke-width="0.5" text-anchor="middle">0</text>
<text transform="translate(1104.86,1619.5) scale(1.17,1)" font-family='"Liberation Serif", "Times New Roman", serif' font-size="20" fill="#262626" stroke="#262626" stroke-width="0.5" text-anchor="middle">20</text>
<text transform="translate(1223.72,1619.5) scale(1.17,1)" font-family='"Liberation Serif", "Times New Roman", serif' font-size="20" fill="#262626" stroke="#262626" stroke-width="0.5" text-anchor="middle">40</text>
<text transform="translate(1342.58,1619.5) scale(1.17,1)" font-family='"Liberation Serif", "Times New Roman", serif' font-size="20" fill="#262626" stroke="#262626" stroke-width="0.5" text-anchor="middle">60</text>
<text transform="translate(1461.44,1619.5) scale(1.17,1)" font-family='"Liberation Serif", "Times New Roman", serif' font-size="20" fill="#262626" stroke="#262626" stroke-width="0.5" text-anchor="middle">80</text>
<text transform="translate(1580.3,1619.5) scale(1.17,1)" font-family='"Liberation Serif", "Times New Roman", serif' font-size="20" fill="#262626" stroke="#262626" stroke-width="0.5" text-anchor="middle">100</text>
<text transform="translate(1699.16,1619.5) scale(1.17,1)" font-family='"Liberation Serif", "Times New Roman", serif' font-size="20" fill="#262626" stroke="#262626" stroke-width="0.5" text-anchor="middle">120</text>
<text transform="translate(973,1644.3) scale(1.17,1)" font-family='"Liberation Serif", "Times New Roman", serif' font-size="20" fill="#262626" stroke="#262626" stroke-width="0.5" text-anchor="end">0.0</text>
<text transform="translate(973,1727.74) scale(1.17,1)" font-family='"Liberation Serif", "Times New Roman", serif' font-size="20" fill="#262626" stroke="#262626" stroke-width="0.5" text-anchor="end">0.2</text>
<text transform="translate(973,1811.18) scale(1.17,1)" font-family='"Liberation Serif", "Times New Roman", serif' font-size="20" fill="#262626" stroke="#262626" stroke-width="0.5" text-anchor="end">0.4</text>
<text transform="translate(973,1894.62) scale(1.17,1)" font-family='"Liberation Serif", "Times New Roman", serif' font-size="20" fill="#262626" stroke="#262626" stroke-width="0.5" text-anchor="end">0.6</text>
<text transform="translate(973,1978.06) scale(1.17,1)" font-family='"Liberation Serif", "Times New Roman", serif' font-size="20" fill="#262626" stroke="#262626" stroke-width="0.5" text-anchor="end">0.8</text>
<text transform="translate(973,2061.5) scale(1.17,1)" font-family='"Liberation Serif", "Times New Roman", serif' font-size="20" fill="#262626" stroke="#262626" stroke-width="0.5" text-anchor="end">1.0</text>
<text transform="translate(973,2144.94) scale(1.17,1)" font-family='"Liberation Serif", "Times New Roman", serif' font-size="20" fill="#262626" stroke="#262626" stroke-width="0.5" text-anchor="end">1.2</text>
<text transform="translate(973,2228.38) scale(1.17,1)" font-family='"Liberation Serif", "Times New Roman", serif' font-size="20" fill="#262626" stroke="#262626" stroke-width="0.5" text-anchor="end">1.4</text>
<text transform="translate(1356.7,1586.7) scale(1.17,1)" font-family='"Liberation Serif", "Times New Roman", serif' font-size="27" fill="#262626" stroke="#262626" stroke-width="0.5" text-anchor="middle">σd / kPa</text>
<text transform="translate(889.8,1928.3) rotate(-90) scale(0.914,1)" font-family='"Liberation Serif", "Times New Roman", serif' font-size="30.8" fill="#262626" stroke="#262626" stroke-width="0.5" text-anchor="middle">εp / %</text>
<g clip-path="url(#cp6)">
<g stroke="#000" stroke-opacity="0.54" stroke-width="1.9" fill="none" stroke-linejoin="round">
<polyline points="986.0,1637.5 990.0,1637.8 994.0,1638.0 998.0,1638.3 1001.9,1638.5 1005.9,1638.8 1009.9,1639.0 1013.9,1639.3 1017.9,1639.5 1021.9,1639.7 1025.8,1640.0 1029.8,1640.2 1033.8,1640.4 1037.8,1640.6 1041.8,1640.8 1045.8,1641.0 1049.7,1641.2 1053.7,1641.4 1057.7,1641.6 1061.7,1641.7 1065.7,1641.9 1069.7,1642.0 1073.7,1642.2 1077.6,1642.3 1081.6,1642.5 1085.6,1642.7 1089.6,1642.9 1093.6,1643.1 1097.6,1643.4 1101.5,1643.6 1105.5,1643.9 1109.5,1644.2 1113.5,1644.5 1117.5,1644.8 1121.5,1645.2 1125.4,1645.5 1129.4,1645.9 1133.4,1646.3 1137.4,1646.7 1141.4,1647.0 1145.4,1647.4 1149.3,1647.9 1153.3,1648.3 1157.3,1648.7 1161.3,1649.1 1165.3,1649.5 1169.3,1650.0 1173.3,1650.4 1177.2,1650.8 1181.2,1651.2 1185.2,1651.7 1189.2,1652.1 1193.2,1652.5 1197.2,1652.9 1201.1,1653.3 1205.1,1653.7 1209.1,1654.1 1213.1,1654.5 1217.1,1654.8 1221.1,1655.2 1225.0,1655.5 1229.0,1655.8 1233.0,1656.1 1237.0,1656.4 1241.0,1656.7 1245.0,1657.0 1249.0,1657.3 1252.9,1657.5 1256.9,1657.7 1260.9,1658.0 1264.9,1658.3 1268.9,1658.6 1272.9,1658.9 1276.8,1659.2 1280.8,1659.6 1284.8,1660.0 1288.8,1660.5 1292.8,1660.9 1296.8,1661.4 1300.7,1662.0 1304.7,1662.5 1308.7,1663.1 1312.7,1663.7 1316.7,1664.4 1320.7,1665.0 1324.7,1665.7 1328.6,1666.3 1332.6,1667.0 1336.6,1667.6 1340.6,1668.3 1344.6,1668.9 1348.6,1669.6 1352.5,1670.3 1356.5,1670.9 1360.5,1671.6 1364.5,1672.2 1368.5,1672.9 1372.5,1673.6 1376.4,1674.2 1380.4,1674.9 1384.4,1675.5 1388.4,1676.1 1392.4,1676.8 1396.4,1677.4 1400.3,1678.0 1404.3,1678.7 1408.3,1679.3 1412.3,1679.9 1416.3,1680.5 1420.3,1681.0 1424.3,1681.6 1428.2,1682.1 1432.2,1682.7 1436.2,1683.2 1440.2,1683.7 1444.2,1684.2 1448.2,1684.7 1452.1,1685.1 1456.1,1685.6 1460.1,1686.0 1464.1,1686.4 1468.1,1686.8 1472.1,1687.2 1476.0,1687.6 1480.0,1688.0 1484.0,1688.4 1488.0,1688.7 1492.0,1689.1 1496.0,1689.4 1500.0,1689.7 1503.9,1690.1 1507.9,1690.4 1511.9,1690.7 1515.9,1691.1 1519.9,1691.4 1523.9,1691.7 1527.8,1692.1 1531.8,1692.5 1535.8,1693.0 1539.8,1693.5 1543.8,1694.0 1547.8,1694.5 1551.7,1695.1 1555.7,1695.7 1559.7,1696.3 1563.7,1697.0 1567.7,1697.7 1571.7,1698.4 1575.7,1699.1 1579.6,1699.8 1583.6,1700.6 1587.6,1701.4 1591.6,1702.2 1595.6,1703.0 1599.6,1703.9 1603.5,1704.7 1607.5,1705.6 1611.5,1706.5 1615.5,1707.4 1619.5,1708.3 1623.5,1709.3 1627.4,1710.2 1631.4,1711.2 1635.4,1712.2 1639.4,1713.2 1643.4,1714.2 1647.4,1715.2 1651.4,1716.3 1655.3,1717.3 1659.3,1718.4 1663.3,1719.5 1667.3,1720.6 1671.3,1721.7 1675.3,1722.8 1679.2,1723.9 1683.2,1725.1 1687.2,1726.2 1691.2,1727.4 1695.2,1728.5 1699.2,1729.7"/>
<polyline points="986.0,1637.5 990.0,1637.8 994.0,1638.0 998.0,1638.3 1001.9,1638.5 1005.9,1638.8 1009.9,1639.0 1013.9,1639.3 1017.9,1639.5 1021.9,1639.7 1025.8,1640.0 1029.8,1640.2 1033.8,1640.4 1037.8,1640.6 1041.8,1640.8 1045.8,1641.0 1049.7,1641.2 1053.7,1641.4 1057.7,1641.6 1061.7,1641.7 1065.7,1641.9 1069.7,1642.0 1073.7,1642.2 1077.6,1642.3 1081.6,1642.5 1085.6,1642.7 1089.6,1642.9 1093.6,1643.1 1097.6,1643.4 1101.5,1643.6 1105.5,1643.9 1109.5,1644.2 1113.5,1644.5 1117.5,1644.8 1121.5,1645.2 1125.4,1645.5 1129.4,1645.9 1133.4,1646.3 1137.4,1646.7 1141.4,1647.0 1145.4,1647.4 1149.3,1647.9 1153.3,1648.3 1157.3,1648.7 1161.3,1649.1 1165.3,1649.5 1169.3,1650.0 1173.3,1650.4 1177.2,1650.8 1181.2,1651.2 1185.2,1651.7 1189.2,1652.1 1193.2,1652.5 1197.2,1652.9 1201.1,1653.3 1205.1,1653.7 1209.1,1654.1 1213.1,1654.5 1217.1,1654.8 1221.1,1655.2 1225.0,1655.5 1229.0,1655.8 1233.0,1656.1 1237.0,1656.4 1241.0,1656.7 1245.0,1657.0 1249.0,1657.3 1252.9,1657.5 1256.9,1657.8 1260.9,1658.0 1264.9,1658.3 1268.9,1658.6 1272.9,1659.0 1276.8,1659.4 1280.8,1659.8 1284.8,1660.3 1288.8,1660.7 1292.8,1661.3 1296.8,1661.9 1300.7,1662.5 1304.7,1663.1 1308.7,1663.8 1312.7,1664.5 1316.7,1665.2 1320.7,1665.9 1324.7,1666.6 1328.6,1667.3 1332.6,1668.0 1336.6,1668.7 1340.6,1669.4 1344.6,1670.1 1348.6,1670.8 1352.5,1671.5 1356.5,1672.2 1360.5,1672.9 1364.5,1673.5 1368.5,1674.2 1372.5,1674.9 1376.4,1675.5 1380.4,1676.2 1384.4,1676.8 1388.4,1677.5 1392.4,1678.1 1396.4,1678.8 1400.3,1679.4 1404.3,1680.0 1408.3,1680.6 1412.3,1681.2 1416.3,1681.8 1420.3,1682.4 1424.3,1683.0 1428.2,1683.5 1432.2,1684.1 1436.2,1684.6 1440.2,1685.1 1444.2,1685.6 1448.2,1686.1 1452.1,1686.6 1456.1,1687.1 1460.1,1687.5 1464.1,1688.0 1468.1,1688.4 1472.1,1688.8 1476.0,1689.2 1480.0,1689.6 1484.0,1690.0 1488.0,1690.4 1492.0,1690.8 1496.0,1691.2 1500.0,1691.5 1503.9,1691.9 1507.9,1692.3 1511.9,1692.6 1515.9,1693.0 1519.9,1693.4 1523.9,1693.8 1527.8,1694.2 1531.8,1694.7 1535.8,1695.2 1539.8,1695.7 1543.8,1696.3 1547.8,1696.9 1551.7,1697.5 1555.7,1698.1 1559.7,1698.8 1563.7,1699.5 1567.7,1700.3 1571.7,1701.0 1575.7,1701.8 1579.6,1702.6 1583.6,1703.4 1587.6,1704.3 1591.6,1705.1 1595.6,1706.0 1599.6,1706.9 1603.5,1707.8 1607.5,1708.8 1611.5,1709.7 1615.5,1710.7 1619.5,1711.7 1623.5,1712.7 1627.4,1713.7 1631.4,1714.7 1635.4,1715.8 1639.4,1716.8 1643.4,1717.9 1647.4,1719.0 1651.4,1720.1 1655.3,1721.2 1659.3,1722.4 1663.3,1723.5 1667.3,1724.7 1671.3,1725.8 1675.3,1727.0 1679.2,1728.2 1683.2,1729.4 1687.2,1730.6 1691.2,1731.8 1695.2,1733.1 1699.2,1734.3"/>
<polyline points="986.0,1639.4 990.0,1639.6 994.0,1639.9 998.0,1640.2 1001.9,1640.4 1005.9,1640.7 1009.9,1640.9 1013.9,1641.1 1017.9,1641.4 1021.9,1641.6 1025.8,1641.8 1029.8,1642.1 1033.8,1642.3 1037.8,1642.5 1041.8,1642.7 1045.8,1642.9 1049.7,1643.1 1053.7,1643.2 1057.7,1643.4 1061.7,1643.6 1065.7,1643.8 1069.7,1643.9 1073.7,1644.0 1077.6,1644.2 1081.6,1644.4 1085.6,1644.5 1089.6,1644.8 1093.6,1645.0 1097.6,1645.2 1101.5,1645.5 1105.5,1645.8 1109.5,1646.1 1113.5,1646.4 1117.5,1646.7 1121.5,1647.0 1125.4,1647.4 1129.4,1647.8 1133.4,1648.1 1137.4,1648.5 1141.4,1648.9 1145.4,1649.3 1149.3,1649.7 1153.3,1650.1 1157.3,1650.6 1161.3,1651.0 1165.3,1651.4 1169.3,1651.8 1173.3,1652.3 1177.2,1652.7 1181.2,1653.1 1185.2,1653.5 1189.2,1654.0 1193.2,1654.4 1197.2,1654.8 1201.1,1655.2 1205.1,1655.6 1209.1,1655.9 1213.1,1656.3 1217.1,1656.7 1221.1,1657.0 1225.0,1657.4 1229.0,1657.7 1233.0,1658.0 1237.0,1658.3 1241.0,1658.6 1245.0,1658.9 1249.0,1659.1 1252.9,1659.4 1256.9,1659.6 1260.9,1659.9 1264.9,1660.2 1268.9,1660.6 1272.9,1660.9 1276.8,1661.4 1280.8,1661.8 1284.8,1662.3 1288.8,1662.9 1292.8,1663.4 1296.8,1664.1 1300.7,1664.7 1304.7,1665.4 1308.7,1666.2 1312.7,1666.9 1316.7,1667.7 1320.7,1668.5 1324.7,1669.2 1328.6,1670.0 1332.6,1670.8 1336.6,1671.5 1340.6,1672.2 1344.6,1673.0 1348.6,1673.7 1352.5,1674.4 1356.5,1675.1 1360.5,1675.8 1364.5,1676.5 1368.5,1677.2 1372.5,1677.9 1376.4,1678.6 1380.4,1679.3 1384.4,1679.9 1388.4,1680.6 1392.4,1681.2 1396.4,1681.9 1400.3,1682.5 1404.3,1683.2 1408.3,1683.8 1412.3,1684.4 1416.3,1685.0 1420.3,1685.6 1424.3,1686.2 1428.2,1686.7 1432.2,1687.3 1436.2,1687.8 1440.2,1688.4 1444.2,1688.9 1448.2,1689.4 1452.1,1689.9 1456.1,1690.4 1460.1,1690.9 1464.1,1691.4 1468.1,1691.8 1472.1,1692.3 1476.0,1692.7 1480.0,1693.2 1484.0,1693.6 1488.0,1694.0 1492.0,1694.4 1496.0,1694.9 1500.0,1695.3 1503.9,1695.7 1507.9,1696.1 1511.9,1696.5 1515.9,1696.9 1519.9,1697.4 1523.9,1697.8 1527.8,1698.3 1531.8,1698.8 1535.8,1699.3 1539.8,1699.9 1543.8,1700.5 1547.8,1701.1 1551.7,1701.8 1555.7,1702.5 1559.7,1703.2 1563.7,1703.9 1567.7,1704.7 1571.7,1705.5 1575.7,1706.3 1579.6,1707.1 1583.6,1708.0 1587.6,1708.9 1591.6,1709.8 1595.6,1710.7 1599.6,1711.6 1603.5,1712.6 1607.5,1713.5 1611.5,1714.5 1615.5,1715.5 1619.5,1716.5 1623.5,1717.5 1627.4,1718.6 1631.4,1719.6 1635.4,1720.7 1639.4,1721.8 1643.4,1722.9 1647.4,1724.0 1651.4,1725.1 1655.3,1726.3 1659.3,1727.4 1663.3,1728.6 1667.3,1729.7 1671.3,1730.9 1675.3,1732.1 1679.2,1733.3 1683.2,1734.5 1687.2,1735.8 1691.2,1737.0 1695.2,1738.2 1699.2,1739.5"/>
<polyline points="986.0,1635.6 990.0,1635.9 994.0,1636.2 998.0,1636.4 1001.9,1636.7 1005.9,1636.9 1009.9,1637.2 1013.9,1637.4 1017.9,1637.6 1021.9,1637.9 1025.8,1638.1 1029.8,1638.3 1033.8,1638.5 1037.8,1638.7 1041.8,1638.9 1045.8,1639.1 1049.7,1639.3 1053.7,1639.5 1057.7,1639.7 1061.7,1639.9 1065.7,1640.0 1069.7,1640.2 1073.7,1640.3 1077.6,1640.5 1081.6,1640.6 1085.6,1640.8 1089.6,1641.0 1093.6,1641.2 1097.6,1641.5 1101.5,1641.8 1105.5,1642.0 1109.5,1642.3 1113.5,1642.6 1117.5,1643.0 1121.5,1643.3 1125.4,1643.7 1129.4,1644.0 1133.4,1644.4 1137.4,1644.8 1141.4,1645.2 1145.4,1645.6 1149.3,1646.0 1153.3,1646.4 1157.3,1646.8 1161.3,1647.2 1165.3,1647.7 1169.3,1648.1 1173.3,1648.5 1177.2,1649.0 1181.2,1649.4 1185.2,1649.8 1189.2,1650.2 1193.2,1650.6 1197.2,1651.0 1201.1,1651.4 1205.1,1651.8 1209.1,1652.2 1213.1,1652.6 1217.1,1652.9 1221.1,1653.3 1225.0,1653.6 1229.0,1654.0 1233.0,1654.3 1237.0,1654.6 1241.0,1654.9 1245.0,1655.2 1249.0,1655.4 1252.9,1655.7 1256.9,1655.9 1260.9,1656.2 1264.9,1656.5 1268.9,1656.9 1272.9,1657.3 1276.8,1657.8 1280.8,1658.2 1284.8,1658.8 1288.8,1659.4 1292.8,1660.0 1296.8,1660.7 1300.7,1661.4 1304.7,1662.2 1308.7,1663.0 1312.7,1663.8 1316.7,1664.7 1320.7,1665.5 1324.7,1666.3 1328.6,1667.1 1332.6,1667.9 1336.6,1668.7 1340.6,1669.5 1344.6,1670.3 1348.6,1671.0 1352.5,1671.8 1356.5,1672.5 1360.5,1673.2 1364.5,1674.0 1368.5,1674.7 1372.5,1675.4 1376.4,1676.1 1380.4,1676.7 1384.4,1677.4 1388.4,1678.1 1392.4,1678.7 1396.4,1679.4 1400.3,1680.0 1404.3,1680.7 1408.3,1681.3 1412.3,1681.9 1416.3,1682.5 1420.3,1683.1 1424.3,1683.7 1428.2,1684.3 1432.2,1684.9 1436.2,1685.4 1440.2,1686.0 1444.2,1686.5 1448.2,1687.1 1452.1,1687.6 1456.1,1688.1 1460.1,1688.6 1464.1,1689.1 1468.1,1689.6 1472.1,1690.1 1476.0,1690.5 1480.0,1691.0 1484.0,1691.5 1488.0,1691.9 1492.0,1692.4 1496.0,1692.8 1500.0,1693.3 1503.9,1693.7 1507.9,1694.2 1511.9,1694.6 1515.9,1695.1 1519.9,1695.5 1523.9,1696.0 1527.8,1696.5 1531.8,1697.1 1535.8,1697.6 1539.8,1698.2 1543.8,1698.9 1547.8,1699.6 1551.7,1700.3 1555.7,1701.0 1559.7,1701.7 1563.7,1702.5 1567.7,1703.3 1571.7,1704.1 1575.7,1705.0 1579.6,1705.8 1583.6,1706.7 1587.6,1707.6 1591.6,1708.6 1595.6,1709.5 1599.6,1710.5 1603.5,1711.4 1607.5,1712.4 1611.5,1713.4 1615.5,1714.5 1619.5,1715.5 1623.5,1716.6 1627.4,1717.7 1631.4,1718.7 1635.4,1719.8 1639.4,1721.0 1643.4,1722.1 1647.4,1723.2 1651.4,1724.4 1655.3,1725.6 1659.3,1726.7 1663.3,1727.9 1667.3,1729.1 1671.3,1730.3 1675.3,1731.6 1679.2,1732.8 1683.2,1734.0 1687.2,1735.3 1691.2,1736.5 1695.2,1737.8 1699.2,1739.1"/>
<polyline points="986.0,1637.5 990.0,1637.8 994.0,1638.0 998.0,1638.3 1001.9,1638.5 1005.9,1638.8 1009.9,1639.0 1013.9,1639.3 1017.9,1639.5 1021.9,1639.7 1025.8,1640.0 1029.8,1640.2 1033.8,1640.4 1037.8,1640.6 1041.8,1640.8 1045.8,1641.0 1049.7,1641.2 1053.7,1641.4 1057.7,1641.6 1061.7,1641.7 1065.7,1641.9 1069.7,1642.0 1073.7,1642.2 1077.6,1642.3 1081.6,1642.5 1085.6,1642.7 1089.6,1642.9 1093.6,1643.1 1097.6,1643.4 1101.5,1643.6 1105.5,1643.9 1109.5,1644.2 1113.5,1644.5 1117.5,1644.8 1121.5,1645.2 1125.4,1645.5 1129.4,1645.9 1133.4,1646.3 1137.4,1646.7 1141.4,1647.0 1145.4,1647.4 1149.3,1647.9 1153.3,1648.3 1157.3,1648.7 1161.3,1649.1 1165.3,1649.5 1169.3,1650.0 1173.3,1650.4 1177.2,1650.8 1181.2,1651.2 1185.2,1651.7 1189.2,1652.1 1193.2,1652.5 1197.2,1652.9 1201.1,1653.3 1205.1,1653.7 1209.1,1654.1 1213.1,1654.5 1217.1,1654.8 1221.1,1655.2 1225.0,1655.5 1229.0,1655.8 1233.0,1656.2 1237.0,1656.5 1241.0,1656.8 1245.0,1657.0 1249.0,1657.3 1252.9,1657.6 1256.9,1657.8 1260.9,1658.1 1264.9,1658.5 1268.9,1658.8 1272.9,1659.3 1276.8,1659.8 1280.8,1660.3 1284.8,1660.9 1288.8,1661.5 1292.8,1662.2 1296.8,1663.0 1300.7,1663.8 1304.7,1664.6 1308.7,1665.5 1312.7,1666.4 1316.7,1667.3 1320.7,1668.2 1324.7,1669.1 1328.6,1670.0 1332.6,1670.9 1336.6,1671.7 1340.6,1672.5 1344.6,1673.3 1348.6,1674.1 1352.5,1674.9 1356.5,1675.7 1360.5,1676.5 1364.5,1677.2 1368.5,1677.9 1372.5,1678.7 1376.4,1679.4 1380.4,1680.1 1384.4,1680.8 1388.4,1681.5 1392.4,1682.1 1396.4,1682.8 1400.3,1683.5 1404.3,1684.1 1408.3,1684.8 1412.3,1685.4 1416.3,1686.0 1420.3,1686.6 1424.3,1687.2 1428.2,1687.8 1432.2,1688.4 1436.2,1689.0 1440.2,1689.6 1444.2,1690.1 1448.2,1690.7 1452.1,1691.2 1456.1,1691.8 1460.1,1692.3 1464.1,1692.8 1468.1,1693.3 1472.1,1693.9 1476.0,1694.4 1480.0,1694.8 1484.0,1695.3 1488.0,1695.8 1492.0,1696.3 1496.0,1696.8 1500.0,1697.3 1503.9,1697.7 1507.9,1698.2 1511.9,1698.7 1515.9,1699.2 1519.9,1699.7 1523.9,1700.2 1527.8,1700.7 1531.8,1701.3 1535.8,1701.9 1539.8,1702.6 1543.8,1703.3 1547.8,1704.0 1551.7,1704.7 1555.7,1705.4 1559.7,1706.2 1563.7,1707.0 1567.7,1707.9 1571.7,1708.7 1575.7,1709.6 1579.6,1710.5 1583.6,1711.4 1587.6,1712.3 1591.6,1713.3 1595.6,1714.2 1599.6,1715.2 1603.5,1716.2 1607.5,1717.2 1611.5,1718.3 1615.5,1719.3 1619.5,1720.4 1623.5,1721.5 1627.4,1722.6 1631.4,1723.7 1635.4,1724.8 1639.4,1725.9 1643.4,1727.1 1647.4,1728.2 1651.4,1729.4 1655.3,1730.6 1659.3,1731.8 1663.3,1733.0 1667.3,1734.2 1671.3,1735.4 1675.3,1736.7 1679.2,1737.9 1683.2,1739.2 1687.2,1740.4 1691.2,1741.7 1695.2,1743.0 1699.2,1744.3"/>
</g>
<g fill="#000">
<rect x="980.6" y="1632.1" width="10.8" height="10.8"/>
<rect x="1040.03" y="1636.11" width="10.8" height="10.8"/>
<rect x="1099.46" y="1637.11" width="10.8" height="10.8"/>
<rect x="1218.32" y="1650.87" width="10.8" height="10.8"/>
<rect x="1277.75" y="1653.38" width="10.8" height="10.8"/>
<rect x="1337.18" y="1663.18" width="10.8" height="10.8"/>
<rect x="1456.04" y="1683" width="10.8" height="10.8"/>
<rect x="1574.9" y="1689.09" width="10.8" height="10.8"/>
<rect x="1693.76" y="1724.3" width="10.8" height="10.8"/>
<circle cx="986" cy="1637.5" r="6"/>
<circle cx="1045.43" cy="1641.51" r="6"/>
<circle cx="1104.86" cy="1642.51" r="6"/>
<circle cx="1223.72" cy="1656.27" r="6"/>
<circle cx="1283.15" cy="1658.78" r="6"/>
<circle cx="1342.58" cy="1670.04" r="6"/>
<circle cx="1461.44" cy="1689.65" r="6"/>
<circle cx="1580.3" cy="1697.16" r="6"/>
<circle cx="1699.16" cy="1734.29" r="6"/>
<path d="M986,1631.9L993,1643.1L979,1643.1Z"/>
<path d="M1045.43,1635.91L1052.43,1647.11L1038.43,1647.11Z"/>
<path d="M1104.86,1636.91L1111.86,1648.11L1097.86,1648.11Z"/>
<path d="M1223.72,1650.67L1230.72,1661.87L1216.72,1661.87Z"/>
<path d="M1283.15,1653.18L1290.15,1664.38L1276.15,1664.38Z"/>
<path d="M1342.58,1665.69L1349.58,1676.89L1335.58,1676.89Z"/>
<path d="M1461.44,1685.3L1468.44,1696.5L1454.44,1696.5Z"/>
<path d="M1580.3,1694.48L1587.3,1705.68L1573.3,1705.68Z"/>
<path d="M1699.16,1732.03L1706.16,1743.23L1692.16,1743.23Z"/>
<path d="M986,1643.1L993,1631.9L979,1631.9Z"/>
<path d="M1045.43,1647.11L1052.43,1635.91L1038.43,1635.91Z"/>
<path d="M1104.86,1648.11L1111.86,1636.91L1097.86,1636.91Z"/>
<path d="M1223.72,1661.87L1230.72,1650.67L1216.72,1650.67Z"/>
<path d="M1283.15,1664.38L1290.15,1653.18L1276.15,1653.18Z"/>
<path d="M1342.58,1678.14L1349.58,1666.94L1335.58,1666.94Z"/>
<path d="M1461.44,1697.75L1468.44,1686.55L1454.44,1686.55Z"/>
<path d="M1580.3,1708.18L1587.3,1696.98L1573.3,1696.98Z"/>
<path d="M1699.16,1746.57L1706.16,1735.37L1692.16,1735.37Z"/>
<path d="M986,1630.4L993.5,1637.5L986,1644.6L978.5,1637.5Z"/>
<path d="M1045.43,1634.41L1052.93,1641.51L1045.43,1648.61L1037.93,1641.51Z"/>
<path d="M1104.86,1635.41L1112.36,1642.51L1104.86,1649.61L1097.36,1642.51Z"/>
<path d="M1223.72,1649.17L1231.22,1656.27L1223.72,1663.37L1216.22,1656.27Z"/>
<path d="M1283.15,1651.68L1290.65,1658.78L1283.15,1665.88L1275.65,1658.78Z"/>
<path d="M1342.58,1666.91L1350.08,1674.01L1342.58,1681.11L1335.08,1674.01Z"/>
<path d="M1461.44,1686.72L1468.94,1693.82L1461.44,1700.92L1453.94,1693.82Z"/>
<path d="M1580.3,1698.4L1587.8,1705.5L1580.3,1712.6L1572.8,1705.5Z"/>
<path d="M1699.16,1737.2L1706.66,1744.3L1699.16,1751.4L1691.66,1744.3Z"/>
</g></g>
<rect x="1050.9" y="2031" width="156.1" height="174.6" fill="#fff" stroke="#8c8c8c" stroke-width="1.6"/>
<path d="M1055.4,2049.4H1124.8" stroke="#777777" stroke-width="1.9"/>
<g fill="#000"><rect x="1084.3" y="2044" width="10.8" height="10.8"/></g>
<text transform="translate(1133.2,2059.4) scale(1.15,1)" font-family='"Liberation Serif", "Times New Roman", serif' font-size="26.5" fill="#262626" stroke="#262626" stroke-width="0.5" text-anchor="start">N=10</text>
<path d="M1055.4,2083.8H1124.8" stroke="#777777" stroke-width="1.9"/>
<g fill="#000"><circle cx="1089.7" cy="2083.8" r="6"/></g>
<text transform="translate(1133.2,2093.8) scale(1.15,1)" font-family='"Liberation Serif", "Times New Roman", serif' font-size="26.5" fill="#262626" stroke="#262626" stroke-width="0.5" text-anchor="start">N=20</text>
<path d="M1055.4,2118.2H1124.8" stroke="#777777" stroke-width="1.9"/>
<g fill="#000"><path d="M1089.7,2110.73L1096.7,2121.93L1082.7,2121.93Z"/></g>
<text transform="translate(1133.2,2128.2) scale(1.15,1)" font-family='"Liberation Serif", "Times New Roman", serif' font-size="26.5" fill="#262626" stroke="#262626" stroke-width="0.5" text-anchor="start">N=30</text>
<path d="M1055.4,2152.6H1124.8" stroke="#777777" stroke-width="1.9"/>
<g fill="#000"><path d="M1089.7,2160.07L1096.7,2148.87L1082.7,2148.87Z"/></g>
<text transform="translate(1133.2,2162.6) scale(1.15,1)" font-family='"Liberation Serif", "Times New Roman", serif' font-size="26.5" fill="#262626" stroke="#262626" stroke-width="0.5" text-anchor="start">N=40</text>
<path d="M1055.4,2187H1124.8" stroke="#777777" stroke-width="1.9"/>
<g fill="#000"><path d="M1089.7,2179.9L1097.2,2187L1089.7,2194.1L1082.2,2187Z"/></g>
<text transform="translate(1133.2,2197) scale(1.15,1)" font-family='"Liberation Serif", "Times New Roman", serif' font-size="26.5" fill="#262626" stroke="#262626" stroke-width="0.5" text-anchor="start">N=50</text>
<text transform="translate(1336.4,2274.1) scale(1.1,1)" font-family='"Liberation Sans", Arial, sans-serif' font-size="38.8" fill="#111" text-anchor="middle">FH-2</text>
</svg></body></html>
